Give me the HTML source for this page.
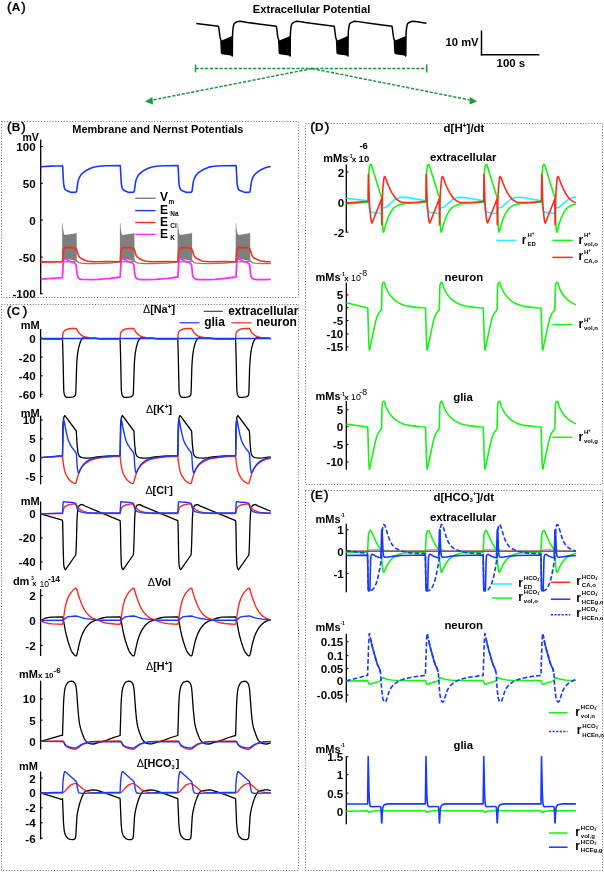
<!DOCTYPE html>
<html><head><meta charset="utf-8"><style>
html,body{margin:0;padding:0;background:#fff;}
svg{display:block;font-family:"Liberation Sans",sans-serif;will-change:transform;}
</style></head><body>
<svg width="604" height="874" viewBox="0 0 604 874">
<rect width="604" height="874" fill="#fff"/>
<text x="7" y="11" font-size="13.6" font-weight="normal" stroke="#000" stroke-width="0.45">(<tspan font-size="11.8" font-weight="bold" stroke-width="0.1" dx="0.1">A</tspan><tspan dx="1.1" stroke-width="0.45">)</tspan></text>
<text x="252.8" y="13.1" font-size="11.2" font-weight="bold" text-anchor="start">Extracellular Potential</text>
<polygon points="221,40.7 232.3,35.9 232.45,56.2 231.5,55 222.5,53.6 221.5,52.7" fill="#000"/>
<polygon points="278.83,40.7 290.13,35.9 290.28,56.2 289.33,55 280.33,53.6 279.33,52.7" fill="#000"/>
<polygon points="336.66,40.7 347.96,35.9 348.11,56.2 347.16,55 338.16,53.6 337.16,52.7" fill="#000"/>
<polygon points="394.49,40.7 405.79,35.9 405.94,56.2 404.99,55 395.99,53.6 394.99,52.7" fill="#000"/>
<path d="M196.3 23.6 L218.5 26.3 L218.9 28.5 L219.9 36.4 L220.1 37.5 L220.9 40.05 L221.5 52.7 L221.7 53.13 L222.1 53.44 L223.5 53.82 L230.9 54.82 L231.5 55 L232.3 56 L232.5 35.9 L232.7 31.53 L233.3 26.61 L233.9 24.19 L234.5 23.34 L235.7 22.45 L237.3 21.69 L238.3 21.38 L239.7 21.31 L241.9 21.51 L247.5 22.43 L256.7 23.72 L276.33 26.3 L276.73 28.5 L277.73 36.4 L277.93 37.5 L278.73 40.05 L279.33 52.7 L279.53 53.13 L279.93 53.44 L281.33 53.82 L288.73 54.82 L289.33 55 L290.13 56 L290.33 35.9 L290.53 31.53 L291.13 26.61 L291.73 24.19 L292.33 23.34 L293.33 22.56 L295.73 21.48 L296.93 21.3 L299.53 21.48 L305.33 22.43 L314.53 23.72 L334.16 26.3 L334.56 28.5 L335.56 36.4 L335.76 37.5 L336.56 40.05 L337.16 52.7 L337.36 53.13 L337.76 53.44 L339.16 53.82 L346.56 54.82 L347.16 55 L347.96 56 L348.16 35.9 L348.36 31.53 L348.76 27.88 L349.36 24.75 L349.76 23.85 L350.76 22.81 L352.56 21.87 L353.76 21.42 L354.56 21.3 L356.36 21.38 L372.96 23.8 L391.99 26.3 L392.39 28.5 L393.39 36.4 L393.59 37.5 L394.39 40.05 L394.99 52.7 L395.19 53.13 L395.59 53.44 L396.99 53.82 L404.39 54.82 L404.99 55 L405.79 56 L405.99 35.9 L406.19 31.53 L406.79 26.61 L407.19 24.75 L407.59 23.85 L408.39 22.96 L409.19 22.45 L411.19 21.54 L412.39 21.3 L415.59 21.53 L426.4 23.18" fill="none" stroke="#000" stroke-width="1.5" stroke-linejoin="round"/>
<line x1="481.5" y1="30.4" x2="481.5" y2="55.5" stroke="#000" stroke-width="1.5"/>
<line x1="480.8" y1="54.8" x2="539.4" y2="54.8" stroke="#000" stroke-width="1.5"/>
<text x="445.6" y="46.2" font-size="11.2" font-weight="bold" text-anchor="start">10 mV</text>
<text x="496.6" y="66.6" font-size="11.4" font-weight="bold" text-anchor="start">100 s</text>
<line x1="195.5" y1="68.4" x2="426.8" y2="68.4" stroke="#1a9a3a" stroke-width="1.5" stroke-dasharray="3.2 1.6"/>
<line x1="195.5" y1="64.6" x2="195.5" y2="72.4" stroke="#1a9a3a" stroke-width="1.5"/>
<line x1="426.8" y1="64.6" x2="426.8" y2="72.4" stroke="#1a9a3a" stroke-width="1.5"/>
<line x1="312" y1="68.6" x2="153" y2="99.9" stroke="#1a9a3a" stroke-width="1.5" stroke-dasharray="3.2 1.6"/>
<line x1="312" y1="68.6" x2="469.5" y2="99.9" stroke="#1a9a3a" stroke-width="1.5" stroke-dasharray="3.2 1.6"/>
<polygon points="145.0,101.5 152.4,97.1 152.9,104.5" fill="#1a9a3a"/>
<polygon points="477.3,101.5 469.9,97.1 469.4,104.5" fill="#1a9a3a"/>
<rect x="1.5" y="121.5" width="297" height="176" fill="none" stroke="#6a6a6a" stroke-width="1" stroke-dasharray="1 1.83"/>
<rect x="1.5" y="304.5" width="297" height="566" fill="none" stroke="#6a6a6a" stroke-width="1" stroke-dasharray="1 1.83"/>
<rect x="305.5" y="123.5" width="297" height="361" fill="none" stroke="#6a6a6a" stroke-width="1" stroke-dasharray="1 1.83"/>
<rect x="305.5" y="490.5" width="297" height="380" fill="none" stroke="#6a6a6a" stroke-width="1" stroke-dasharray="1 1.83"/>
<text x="7" y="131" font-size="13.6" font-weight="normal" stroke="#000" stroke-width="0.45">(<tspan font-size="11.8" font-weight="bold" stroke-width="0.1" dx="0.1">B</tspan><tspan dx="1.2" stroke-width="0.45">)</tspan></text>
<text x="72.3" y="133.4" font-size="11" font-weight="bold" text-anchor="start">Membrane and Nernst Potentials</text>
<text x="22.4" y="140.6" font-size="10.5" font-weight="bold" text-anchor="start">mV</text>
<line x1="40.7" y1="139.5" x2="40.7" y2="294.2" stroke="#000" stroke-width="1.3"/>
<line x1="40.7" y1="146.5" x2="42.9" y2="146.5" stroke="#000" stroke-width="1.0"/>
<text x="35.6" y="150.9" font-size="11.6" font-weight="bold" text-anchor="end">100</text>
<line x1="40.7" y1="183.3" x2="42.9" y2="183.3" stroke="#000" stroke-width="1.0"/>
<text x="35.6" y="187.7" font-size="11.6" font-weight="bold" text-anchor="end">50</text>
<line x1="40.7" y1="220.1" x2="42.9" y2="220.1" stroke="#000" stroke-width="1.0"/>
<text x="35.6" y="224.5" font-size="11.6" font-weight="bold" text-anchor="end">0</text>
<line x1="40.7" y1="257.1" x2="42.9" y2="257.1" stroke="#000" stroke-width="1.0"/>
<text x="35.6" y="261.5" font-size="11.6" font-weight="bold" text-anchor="end">-50</text>
<line x1="40.7" y1="293.8" x2="42.9" y2="293.8" stroke="#000" stroke-width="1.0"/>
<text x="35.6" y="298.2" font-size="11.6" font-weight="bold" text-anchor="end">-100</text>
<polygon points="62.1,262 62.2,223 62.6,222.9 63.1,229 63.9,233.5 64.8,234.9 76.3,233.2 76.5,232.4 76.7,232.6 76.8,260.8 70.5,259.8 64.5,258.2 63.8,258.6 63.1,262" fill="#7f7f7f"/>
<polygon points="119.8,262 119.9,223 120.3,222.9 120.8,229 121.6,233.5 122.5,234.9 134,233.2 134.2,232.4 134.4,232.6 134.5,260.8 128.2,259.8 122.2,258.2 121.5,258.6 120.8,262" fill="#7f7f7f"/>
<polygon points="177.5,262 177.6,223 178,222.9 178.5,229 179.3,233.5 180.2,234.9 191.7,233.2 191.9,232.4 192.1,232.6 192.2,260.8 185.9,259.8 179.9,258.2 179.2,258.6 178.5,262" fill="#7f7f7f"/>
<polygon points="235.6,262 235.7,223 236.1,222.9 236.6,229 237.4,233.5 238.3,234.9 249.8,233.2 250,232.4 250.2,232.6 250.3,260.8 244,259.8 238,258.2 237.3,258.6 236.6,262" fill="#7f7f7f"/>
<path d="M40.7 261.5 L62.5 261.9 L66.3 261.86 L73.3 261.44 L76.5 261 L76.9 260.72 L78.3 262.4 L80.9 263.14 L86.7 263.5 L94.3 263.59 L101.9 263.42 L109.9 263.06 L114.5 262.63 L120.2 261.9 L125.8 261.81 L130.2 261.52 L134.2 261 L134.6 260.72 L136 262.4 L138.6 263.14 L144 263.49 L151.2 263.6 L158.8 263.45 L167.4 263.07 L172 262.65 L177.9 261.9 L183.5 261.81 L187.9 261.52 L191.9 261 L192.3 260.72 L193.7 262.4 L196.1 263.11 L201.1 263.47 L208.7 263.6 L216.3 263.45 L225.1 263.07 L229.7 262.65 L235.5 261.91 L241.4 261.82 L245.8 261.54 L250 261 L250.4 260.72 L251.8 262.4 L253.2 262.88 L254.8 263.2 L262.2 263.56 L270.8 263.55" fill="none" stroke="#7f7f7f" stroke-width="1.3" stroke-linejoin="round"/>
<path d="M40.7 279.1 L62.45 277.6 L63.3 262 L63.7 259.3 L63.9 258.8 L64.5 258.7 L65.3 258.82 L66.1 259.14 L69.7 261.29 L73.9 262.73 L74.9 263.33 L75.7 264 L76.1 264.91 L76.3 265.97 L77.1 274.5 L77.7 276.8 L78.1 277.67 L78.9 278.35 L80.3 279.09 L81.7 279.46 L92.7 279.6 L97.9 279.41 L110.3 278.33 L120.2 277 L121 262 L121.4 259.3 L121.6 258.8 L122.2 258.7 L123 258.82 L123.8 259.14 L127.4 261.29 L131.6 262.73 L132.6 263.33 L133.4 264 L133.8 264.91 L134 265.97 L134.8 274.5 L135.4 276.8 L135.8 277.67 L136.4 278.21 L137.6 278.92 L139 279.39 L140.4 279.51 L148.8 279.6 L155.4 279.43 L168 278.33 L177.9 277 L178.7 262 L179.1 259.3 L179.3 258.8 L179.9 258.7 L180.7 258.82 L181.5 259.14 L185.1 261.29 L189.3 262.73 L190.3 263.33 L191.1 264 L191.5 264.91 L191.7 265.97 L192.3 272.82 L192.5 274.5 L192.9 276.16 L193.3 277.3 L193.7 277.9 L195.5 279.01 L196.5 279.35 L197.5 279.49 L209.5 279.58 L215.1 279.29 L225.1 278.39 L236 277 L236.8 262 L237.2 259.3 L237.4 258.8 L238 258.7 L238.8 258.82 L239.6 259.14 L243.2 261.29 L247.4 262.73 L248.4 263.33 L249.2 264 L249.6 264.91 L249.8 265.97 L250.4 272.82 L250.8 275.4 L251.2 276.8 L251.6 277.67 L252.6 278.48 L254 279.17 L255.6 279.49 L266.2 279.6 L270.8 279.45" fill="none" stroke="#ff2cff" stroke-width="1.8" stroke-linejoin="round"/>
<path d="M40.7 262.2 L53.45 261.97 L62.45 261.5 L62.5 261.8 L63.1 253 L63.5 250.26 L63.7 249.45 L64.3 248.35 L64.9 247.73 L65.3 247.6 L71.9 247.65 L74.1 247.95 L75.7 248.4 L76.3 249.11 L76.9 250.23 L78.1 254.34 L78.7 255.87 L79.3 256.9 L80.1 257.64 L80.9 258.18 L84.9 260.17 L86.7 260.85 L88.3 261.2 L93.1 261.65 L97.5 261.8 L107.5 261.6 L120.2 261.8 L120.8 253 L121.2 250.26 L121.4 249.45 L122 248.35 L122.6 247.73 L123 247.6 L129.6 247.65 L131.8 247.95 L133.4 248.4 L134 249.11 L134.6 250.23 L135.4 253.19 L136 254.88 L136.6 256.29 L137.2 257.11 L138.6 258.18 L142.2 259.98 L144.2 260.79 L146 261.2 L150.2 261.61 L154 261.79 L165.4 261.6 L177.9 261.8 L178.5 253 L178.9 250.26 L179.1 249.45 L179.5 248.66 L180.1 247.88 L180.7 247.6 L186.1 247.6 L188.9 247.84 L191.1 248.4 L191.7 249.11 L192.3 250.23 L193.5 254.34 L194.1 255.87 L194.7 256.9 L195.7 257.79 L196.7 258.4 L200.3 260.17 L202.3 260.91 L203.5 261.17 L205.9 261.44 L211.3 261.78 L223.3 261.6 L236 261.8 L236.6 253 L236.8 251.46 L237.2 249.45 L237.8 248.35 L238.4 247.73 L238.8 247.6 L245.4 247.65 L248 248.03 L249 248.3 L249.4 248.58 L250.4 250.23 L251.2 253.19 L252.4 256.29 L253.2 257.3 L254.6 258.3 L258.6 260.25 L261 261.06 L265.8 261.59 L270.8 261.8" fill="none" stroke="#ff2a1a" stroke-width="1.6" stroke-linejoin="round"/>
<path d="M40.7 166.8 L50.7 166.08 L62.45 165.7 L62.5 165.5 L62.7 167.2 L63.5 182.04 L63.9 185.51 L64.5 188.25 L65.3 189.58 L65.9 190.13 L66.7 190.61 L70.7 192.22 L71.7 192.39 L72.9 192.39 L75.9 192.2 L76.3 191.77 L76.7 190.62 L77.9 181.9 L78.5 179.7 L79.3 177.68 L80.5 175.54 L82.1 173.61 L84.1 171.9 L86.7 170.18 L90.1 168.5 L92.7 167.46 L94.5 166.98 L98.5 166.28 L101.5 165.96 L105.7 165.77 L120.2 165.5 L120.4 167.2 L121.2 182.04 L121.6 185.51 L122.2 188.25 L123 189.58 L124.2 190.51 L128.2 192.16 L129.2 192.38 L130.2 192.4 L133.6 192.2 L134 191.77 L134.4 190.62 L135.6 181.9 L136.2 179.7 L137 177.68 L138.2 175.54 L139.8 173.61 L141.8 171.9 L144.4 170.18 L147.8 168.5 L150.4 167.46 L152.2 166.98 L156.2 166.28 L159.2 165.96 L163.4 165.77 L177.9 165.5 L178.1 167.2 L178.9 182.04 L179.3 185.51 L179.9 188.25 L180.7 189.58 L181.9 190.51 L185.9 192.16 L186.7 192.35 L187.7 192.4 L191.3 192.2 L191.7 191.77 L192.1 190.62 L193.3 181.9 L194.1 179.12 L194.9 177.27 L196.1 175.25 L197.7 173.41 L199.9 171.6 L202.3 170.07 L205.7 168.41 L208.3 167.4 L210.5 166.86 L214.1 166.25 L217.1 165.94 L221.9 165.75 L236 165.5 L236.2 167.2 L237 182.04 L237.4 185.51 L238 188.25 L238.8 189.58 L240 190.51 L243.8 192.09 L244.8 192.35 L245.6 192.4 L249.4 192.2 L250 191.39 L250.2 190.62 L251.2 182.97 L251.8 180.35 L252.4 178.6 L253.4 176.51 L254.4 174.98 L255.4 173.82 L256.8 172.52 L258.8 171.04 L260.4 170.07 L262.6 168.97 L264.8 167.98 L266.6 167.33 L270.8 166.46" fill="none" stroke="#1638ff" stroke-width="1.6" stroke-linejoin="round"/>
<line x1="135.2" y1="198.3" x2="155.6" y2="198.3" stroke="#7f7f7f" stroke-width="1.4"/>
<line x1="135.2" y1="210.6" x2="155.6" y2="210.6" stroke="#1638ff" stroke-width="1.4"/>
<line x1="135.2" y1="222.5" x2="155.6" y2="222.5" stroke="#ff2a1a" stroke-width="1.4"/>
<line x1="135.2" y1="234.4" x2="155.6" y2="234.4" stroke="#ff2cff" stroke-width="1.4"/>
<text x="159.9" y="201.4" font-size="12" font-weight="bold" text-anchor="start">V</text>
<text x="168.5" y="203.8" font-size="6.4" font-weight="bold" text-anchor="start">m</text>
<text x="160" y="213.5" font-size="12" font-weight="bold" text-anchor="start">E</text>
<text x="170.3" y="215.9" font-size="6.4" font-weight="bold" text-anchor="start">Na</text>
<text x="160" y="225.9" font-size="12" font-weight="bold" text-anchor="start">E</text>
<text x="170.3" y="228.1" font-size="6.4" font-weight="bold" text-anchor="start">Cl</text>
<text x="160" y="237.9" font-size="12" font-weight="bold" text-anchor="start">E</text>
<text x="170.3" y="240.1" font-size="6.4" font-weight="bold" text-anchor="start">K</text>
<text x="6.8" y="315.2" font-size="13.6" font-weight="normal" stroke="#000" stroke-width="0.45">(<tspan font-size="11.8" font-weight="bold" stroke-width="0.1" dx="0.1">C</tspan><tspan dx="2.9" stroke-width="0.45">)</tspan></text>
<line x1="203.7" y1="311.3" x2="222.9" y2="311.3" stroke="#333" stroke-width="1.1"/>
<text x="228.2" y="315.4" font-size="11.9" font-weight="bold" text-anchor="start">extracellular</text>
<line x1="179.5" y1="322.8" x2="199.4" y2="322.8" stroke="#1638ff" stroke-width="1.2"/>
<text x="204.2" y="326" font-size="12" font-weight="bold" text-anchor="start">glia</text>
<line x1="231.3" y1="322.8" x2="251.6" y2="322.8" stroke="#ff2a1a" stroke-width="1.2"/>
<text x="256.2" y="326" font-size="12" font-weight="bold" text-anchor="start">neuron</text>
<text x="143" y="313.4" font-size="10.8" font-weight="bold"><tspan font-weight="normal">&#916;</tspan>[Na<tspan font-size="6.5" dy="-4.2">+</tspan><tspan dy="4.2">]</tspan></text>
<text x="20.7" y="329.2" font-size="11" font-weight="bold" text-anchor="start">mM</text>
<line x1="40.6" y1="329" x2="40.6" y2="397.6" stroke="#000" stroke-width="1.3"/>
<line x1="40.6" y1="338.5" x2="42.8" y2="338.5" stroke="#000" stroke-width="1.0"/>
<text x="35.6" y="342.9" font-size="11.6" font-weight="bold" text-anchor="end">0</text>
<line x1="40.6" y1="357.1" x2="42.8" y2="357.1" stroke="#000" stroke-width="1.0"/>
<text x="35.6" y="361.5" font-size="11.6" font-weight="bold" text-anchor="end">-20</text>
<line x1="40.6" y1="375.8" x2="42.8" y2="375.8" stroke="#000" stroke-width="1.0"/>
<text x="35.6" y="380.2" font-size="11.6" font-weight="bold" text-anchor="end">-40</text>
<line x1="40.6" y1="394.3" x2="42.8" y2="394.3" stroke="#000" stroke-width="1.0"/>
<text x="35.6" y="398.7" font-size="11.6" font-weight="bold" text-anchor="end">-60</text>
<path d="M40.6 338.49 L49.35 339.16 L62.5 339.4 L62.9 352.07 L63.7 389.11 L63.9 391.88 L64.3 394.39 L64.7 395.64 L65.9 396.98 L66.5 397.31 L67.1 397.4 L70.7 397.23 L73.1 396.87 L74.1 396.41 L74.9 395.8 L75.3 395.26 L75.5 394.58 L75.7 393.5 L75.9 389.67 L76.7 364.38 L77.1 358.4 L77.7 352.89 L78.7 347.49 L80.3 342 L80.9 340.67 L81.9 339.11 L82.7 338.17 L83.3 337.83 L93.3 338.04 L102.5 339 L111.9 339.3 L120.1 339.4 L120.5 352.07 L121.3 389.11 L121.5 391.88 L121.9 394.39 L122.3 395.64 L123.5 396.98 L124.1 397.31 L124.7 397.4 L128.3 397.23 L130.7 396.87 L131.7 396.41 L132.5 395.8 L132.9 395.26 L133.1 394.58 L133.3 393.5 L133.5 389.67 L134.3 364.38 L134.7 358.4 L135.3 352.89 L136.3 347.49 L137.7 342.55 L138.3 341.05 L139.1 339.71 L139.9 338.59 L140.7 337.9 L141.1 337.8 L143.1 337.81 L150.7 338.03 L160.1 339 L169.7 339.3 L177.8 339.4 L178.2 352.07 L179 389.11 L179.2 391.88 L179.6 394.39 L180 395.64 L181.2 396.98 L181.8 397.31 L182.4 397.4 L186 397.23 L188.4 396.87 L189.4 396.41 L190.2 395.8 L190.6 395.26 L190.8 394.58 L191 393.5 L191.2 389.67 L191.8 368.3 L192.2 361.11 L192.8 354.4 L193.8 348.36 L195.2 343.15 L196.2 340.67 L197.4 338.84 L198.2 338.02 L198.8 337.8 L207.8 338 L217.4 338.98 L227.2 339.3 L235.6 339.4 L236 352.07 L236.8 389.11 L237 391.88 L237.4 394.39 L237.8 395.64 L239 396.98 L239.6 397.31 L240.2 397.4 L243.8 397.23 L246.2 396.87 L247.2 396.41 L248 395.8 L248.4 395.26 L248.6 394.58 L248.8 393.5 L249 389.67 L249.6 368.3 L250.4 356.19 L251 351.55 L251.6 348.36 L252.8 343.79 L253.8 341.05 L255.4 338.59 L256 338.02 L256.4 337.83 L266 338.02 L270.7 338.51" fill="none" stroke="#000" stroke-width="1.3" stroke-linejoin="round"/>
<path d="M40.6 338.49 L49.35 339.16 L62.5 339.4 L62.9 333.6 L63.1 332.83 L63.7 331.63 L64.9 330.42 L66.3 329.58 L69.1 328.78 L71.5 328.54 L75.7 328.4 L76.1 328.5 L76.5 328.92 L78.3 332.15 L80.7 334.67 L82.3 335.81 L85.3 336.83 L88.5 337.48 L92.5 338.07 L103.1 339.09 L107.3 339.3 L120.1 339.4 L120.5 333.6 L120.7 332.83 L121.3 331.63 L122.5 330.42 L123.9 329.58 L126.7 328.78 L129.1 328.54 L133.3 328.4 L133.7 328.5 L134.1 328.92 L135.9 332.15 L138.3 334.67 L139.9 335.81 L142.9 336.83 L146.1 337.48 L150.1 338.07 L160.7 339.09 L164.9 339.3 L177.8 339.4 L178.2 333.6 L178.4 332.83 L179 331.63 L180.2 330.42 L181.6 329.58 L184.4 328.78 L186.8 328.54 L191 328.4 L191.4 328.5 L191.8 328.92 L193.8 332.4 L196.2 334.85 L197.8 335.9 L200.8 336.88 L204 337.51 L208 338.09 L218.6 339.11 L222.6 339.3 L235.6 339.4 L236 333.6 L236.2 332.83 L236.8 331.63 L238 330.42 L239.4 329.58 L242.2 328.78 L244.6 328.54 L248.8 328.4 L249.2 328.5 L249.6 328.92 L251.6 332.4 L253.8 334.67 L255.4 335.81 L257.8 336.67 L260.8 337.34 L265.4 338.04 L270.7 338.61" fill="none" stroke="#ff2a1a" stroke-width="1.4" stroke-linejoin="round"/>
<path d="M40.6 338.5 L270.7 338.5" fill="none" stroke="#1638ff" stroke-width="1.4" stroke-linejoin="round"/>
<text x="146" y="413" font-size="10.8" font-weight="bold"><tspan font-weight="normal">&#916;</tspan>[K<tspan font-size="6.5" dy="-4.2">+</tspan><tspan dy="4.2">]</tspan></text>
<text x="20.7" y="416.7" font-size="11" font-weight="bold" text-anchor="start">mM</text>
<line x1="40.6" y1="415.7" x2="40.6" y2="484.4" stroke="#000" stroke-width="1.3"/>
<line x1="40.6" y1="419.9" x2="42.8" y2="419.9" stroke="#000" stroke-width="1.0"/>
<text x="35.6" y="424.3" font-size="11.6" font-weight="bold" text-anchor="end">10</text>
<line x1="40.6" y1="438.9" x2="42.8" y2="438.9" stroke="#000" stroke-width="1.0"/>
<text x="35.6" y="443.3" font-size="11.6" font-weight="bold" text-anchor="end">5</text>
<line x1="40.6" y1="457.6" x2="42.8" y2="457.6" stroke="#000" stroke-width="1.0"/>
<text x="35.6" y="462" font-size="11.6" font-weight="bold" text-anchor="end">0</text>
<line x1="40.6" y1="476.5" x2="42.8" y2="476.5" stroke="#000" stroke-width="1.0"/>
<text x="35.6" y="480.9" font-size="11.6" font-weight="bold" text-anchor="end">-5</text>
<path d="M40.6 457.61 L62.5 455.8 L62.9 426.77 L63.1 422.62 L63.7 418.03 L64.3 416.24 L64.7 415.63 L64.9 415.63 L65.1 415.86 L76.3 431 L77.1 444.73 L77.9 452.43 L78.5 454.54 L79.3 456.1 L80.7 457.11 L82.3 457.67 L85.5 458.03 L88.3 458.08 L92.9 457.55 L97.1 456.84 L102.9 456.35 L110.5 455.95 L120.1 455.8 L120.5 426.77 L120.7 422.62 L121.3 418.03 L121.9 416.24 L122.3 415.63 L122.5 415.63 L122.7 415.86 L133.9 431 L134.7 444.73 L135.5 452.43 L136.1 454.54 L136.9 456.1 L138.1 457 L139.5 457.58 L142.7 458 L145.9 458.08 L150.5 457.55 L154.7 456.84 L160.5 456.35 L168.1 455.95 L177.8 455.8 L178.2 426.77 L178.4 422.62 L179 418.03 L179.6 416.24 L180 415.63 L180.2 415.63 L180.4 415.86 L191.6 431 L192.4 444.73 L193.2 452.43 L193.8 454.54 L194.4 455.82 L195.2 456.61 L196.4 457.3 L197.4 457.63 L199.2 457.88 L203.4 458.09 L208 457.57 L212.4 456.84 L218.2 456.35 L225.8 455.95 L235.6 455.8 L236 426.77 L236.2 422.62 L236.8 418.03 L237.4 416.24 L237.8 415.63 L238 415.63 L238.2 415.86 L249.4 431 L250.2 444.73 L250.8 451.06 L251 452.43 L251.4 453.95 L251.8 455.04 L252.4 456.1 L253.6 457 L255 457.58 L257.2 457.9 L259.6 458.08 L263 457.94 L270.7 456.79" fill="none" stroke="#000" stroke-width="1.3" stroke-linejoin="round"/>
<path d="M40.6 457.61 L62.5 456.4 L63.1 461.76 L64.1 468.51 L64.9 471.63 L66.1 474.71 L66.9 476.22 L68.1 478.1 L69.3 479.71 L70.3 480.81 L71.3 481.66 L73.3 482.96 L74.3 483.42 L75.3 483.6 L75.7 483.28 L76.1 482.6 L77.5 477.2 L78.7 473.46 L79.5 471.4 L81.5 467.57 L82.3 466.44 L83.5 465.14 L84.9 463.91 L86.7 462.62 L89.5 460.87 L91.5 459.86 L93.3 459.27 L96.1 458.56 L101.9 457.58 L110.5 456.7 L120.1 456.4 L120.7 461.76 L121.7 468.51 L122.5 471.63 L123.7 474.71 L124.5 476.22 L125.7 478.1 L126.9 479.71 L127.9 480.81 L128.9 481.66 L130.9 482.96 L131.9 483.42 L132.9 483.6 L133.3 483.28 L133.7 482.6 L135.1 477.2 L136.9 471.86 L138.7 468.23 L140.3 465.97 L141.7 464.58 L143.3 463.3 L146.1 461.47 L148.1 460.33 L149.5 459.7 L150.9 459.27 L155.7 458.16 L160.3 457.48 L166.7 456.8 L172.1 456.52 L177.8 456.4 L178.4 461.76 L179.4 468.51 L180.2 471.63 L181.4 474.71 L182.2 476.22 L183.4 478.1 L184.6 479.71 L185.6 480.81 L186.6 481.66 L188.6 482.96 L189.6 483.42 L190.6 483.6 L191.2 483 L191.6 482.01 L192.8 477.2 L194.4 472.36 L195.8 469.33 L197.2 466.97 L199 464.95 L201.2 463.16 L205 460.76 L207.6 459.56 L210.2 458.84 L213.2 458.2 L220.2 457.21 L226.8 456.65 L235.6 456.4 L236.2 461.76 L237.2 468.51 L238 471.63 L239.2 474.71 L240 476.22 L241.2 478.1 L242.4 479.71 L243.4 480.81 L244.4 481.66 L246.4 482.96 L247.4 483.42 L248.4 483.6 L248.8 483.28 L249.2 482.6 L250.6 477.2 L252.4 471.86 L254 468.58 L255.6 466.2 L257 464.76 L258.6 463.45 L261.2 461.72 L263.4 460.43 L265.8 459.44 L270.7 458.26" fill="none" stroke="#ff2a1a" stroke-width="1.4" stroke-linejoin="round"/>
<path d="M40.6 457.61 L62.5 455.8 L63.1 432 L63.5 421.77 L63.7 419.8 L64.3 421.68 L65.5 428.5 L66.9 434.95 L67.7 438.17 L68.5 440.7 L69.5 443.05 L70.7 445.31 L72.7 448.5 L75.3 451.63 L75.9 452.77 L76.3 453.95 L76.5 455 L77.1 465 L77.5 469.16 L77.9 471.46 L78.3 472.73 L78.5 472.78 L79.1 472.17 L80.3 469.5 L81.3 467.69 L82.7 465.51 L83.9 464.06 L85.5 462.49 L86.9 461.39 L88.9 460.19 L90.9 459.24 L92.9 458.6 L96.3 457.88 L106.3 456.53 L111.9 456.03 L120.1 455.8 L120.7 432 L121.1 421.77 L121.3 419.8 L121.9 421.68 L123.1 428.5 L124.5 434.95 L125.3 438.17 L126.1 440.7 L127.1 443.05 L128.3 445.31 L130.3 448.5 L132.9 451.63 L133.5 452.77 L133.9 453.95 L134.1 455 L134.7 465 L135.1 469.16 L135.7 472.25 L135.9 472.73 L136.1 472.78 L136.9 471.84 L138.1 469.1 L139.3 467.02 L140.5 465.24 L141.5 464.06 L143.1 462.49 L144.5 461.39 L146.5 460.19 L148.5 459.24 L150.5 458.6 L153.9 457.88 L163.9 456.53 L169.5 456.03 L177.8 455.8 L178.4 432 L178.8 421.77 L179 419.8 L179.6 421.68 L180.8 428.5 L182.2 434.95 L183 438.17 L183.8 440.7 L184.8 443.05 L186 445.31 L188 448.5 L190.6 451.63 L191.2 452.77 L191.6 453.95 L191.8 455 L192.4 465 L192.8 469.16 L193.4 472.25 L193.6 472.73 L193.8 472.78 L194.6 471.84 L195.8 469.1 L197 467.02 L198.2 465.24 L199.2 464.06 L200.8 462.49 L202.2 461.39 L204.2 460.19 L206.2 459.24 L208.2 458.6 L211.6 457.88 L221.6 456.53 L227.2 456.03 L235.6 455.8 L236.2 432 L236.6 421.77 L236.8 419.8 L237.4 421.68 L238.6 428.5 L240 434.95 L240.8 438.17 L241.6 440.7 L242.6 443.05 L243.8 445.31 L245.8 448.5 L248.4 451.63 L249 452.77 L249.4 453.95 L249.6 455 L250.2 465 L250.6 469.16 L251 471.46 L251.4 472.73 L251.6 472.78 L252.2 472.17 L253.6 469.1 L255.8 465.51 L257.4 463.64 L259.4 461.83 L261.8 460.3 L264.4 459.08 L267 458.36 L270.7 457.66" fill="none" stroke="#1638ff" stroke-width="1.4" stroke-linejoin="round"/>
<text x="145.4" y="493.5" font-size="10.8" font-weight="bold"><tspan font-weight="normal">&#916;</tspan>[Cl<tspan font-size="6.5" dy="-4.2">-</tspan><tspan dy="4.2">]</tspan></text>
<text x="20.7" y="504.9" font-size="11" font-weight="bold" text-anchor="start">mM</text>
<line x1="40.6" y1="501.5" x2="40.6" y2="570.2" stroke="#000" stroke-width="1.3"/>
<line x1="40.6" y1="513.9" x2="42.8" y2="513.9" stroke="#000" stroke-width="1.0"/>
<text x="35.6" y="518.3" font-size="11.6" font-weight="bold" text-anchor="end">0</text>
<line x1="40.6" y1="538" x2="42.8" y2="538" stroke="#000" stroke-width="1.0"/>
<text x="35.6" y="542.4" font-size="11.6" font-weight="bold" text-anchor="end">-20</text>
<line x1="40.6" y1="562" x2="42.8" y2="562" stroke="#000" stroke-width="1.0"/>
<text x="35.6" y="566.4" font-size="11.6" font-weight="bold" text-anchor="end">-40</text>
<path d="M40.6 513.87 L62.35 520.16 L62.5 520.7 L62.7 523.5 L63.3 552.25 L63.7 564.5 L64.3 567.83 L64.7 568.8 L65.3 569.58 L65.5 569.56 L65.7 569.3 L75.7 555 L75.9 553.31 L76.3 545.34 L76.9 523.6 L77.3 514.78 L77.9 508.95 L78.5 506.9 L78.9 506.01 L79.3 505.46 L80.9 504.68 L81.9 504.51 L82.5 504.57 L84.9 505.98 L120.1 520.7 L120.3 523.5 L120.5 530.13 L120.9 552.25 L121.3 564.5 L121.9 567.83 L122.5 569.14 L122.9 569.58 L123.1 569.56 L133.3 555 L133.5 553.31 L133.9 545.34 L134.7 518.08 L135.3 510.33 L135.7 508.14 L136.1 506.9 L136.7 505.69 L137.1 505.3 L138.3 504.75 L139.3 504.52 L140.1 504.57 L142.7 506.07 L177.8 520.7 L178 523.5 L178.2 530.13 L178.6 552.25 L179 564.5 L179.6 567.83 L180 568.8 L180.6 569.58 L180.8 569.56 L181 569.3 L191 555 L191.2 553.31 L191.6 545.34 L192.4 518.08 L193 510.33 L193.4 508.14 L193.8 506.9 L194.4 505.69 L194.8 505.3 L196 504.75 L197 504.52 L197.8 504.57 L200.4 506.07 L235.6 520.7 L235.8 523.5 L236 530.13 L236.4 552.25 L236.8 564.5 L237.4 567.83 L237.8 568.8 L238.4 569.58 L238.6 569.56 L238.8 569.3 L248.8 555 L249 553.31 L249.4 545.34 L250 523.6 L250.4 514.78 L251 508.95 L251.4 507.48 L252 506.01 L252.6 505.3 L253.6 504.82 L254.8 504.52 L255.6 504.57 L257.8 505.89 L270.7 511.27" fill="none" stroke="#000" stroke-width="1.3" stroke-linejoin="round"/>
<path d="M40.6 513.9 L62.5 513.5 L63.1 510.85 L64.1 507.87 L64.5 507.2 L65.7 506.1 L67.3 505.27 L69.7 504.59 L72.7 504.17 L75.5 504 L76.1 504.41 L77.3 506.33 L79.1 508.52 L80.7 509.85 L82.3 510.81 L84.7 511.72 L87.1 512.33 L92.1 513.11 L95.9 513.46 L120.1 513.5 L120.7 510.85 L121.7 507.87 L122.1 507.2 L123.3 506.1 L124.9 505.27 L127.3 504.59 L130.3 504.17 L133.1 504 L133.7 504.41 L134.9 506.33 L136.3 508.08 L138.1 509.71 L139.3 510.5 L140.5 511.07 L142.5 511.78 L144.3 512.25 L149.7 513.11 L153.9 513.48 L177.8 513.5 L178.4 510.85 L179.4 507.87 L179.8 507.2 L181 506.1 L182.6 505.27 L185 504.59 L188 504.17 L190.8 504 L191.4 504.41 L192.6 506.33 L194 508.08 L195.8 509.71 L197 510.5 L198.2 511.07 L200.2 511.78 L202 512.25 L207.4 513.11 L211.6 513.48 L235.6 513.5 L236.2 510.85 L237.2 507.87 L237.6 507.2 L238.8 506.1 L240.4 505.27 L242.8 504.59 L245.8 504.17 L248.6 504 L249.2 504.41 L250.6 506.6 L252.4 508.72 L254 509.99 L255.6 510.9 L258.2 511.84 L260.6 512.4 L266.4 513.25 L270.7 513.5" fill="none" stroke="#ff2a1a" stroke-width="1.4" stroke-linejoin="round"/>
<path d="M40.6 513.9 L62.5 513 L63.1 503.1 L63.3 502.04 L63.5 501.6 L66.1 502 L72.3 502.44 L75.5 503.1 L75.9 504.1 L76.5 506.6 L77.3 508.8 L77.9 509.98 L78.5 510.61 L79.5 511.36 L80.7 511.86 L83.7 512.61 L86.5 512.97 L120.1 513 L120.7 503.1 L120.9 502.04 L121.1 501.6 L123.7 502 L129.9 502.44 L133.1 503.1 L133.5 504.1 L134.1 506.6 L134.9 508.8 L135.5 509.98 L136.5 510.95 L137.5 511.57 L141.1 512.57 L143.1 512.89 L144.9 513 L177.8 513 L178.4 503.1 L178.6 502.04 L178.8 501.6 L181.4 502 L187.6 502.44 L190.8 503.1 L191.2 504.1 L191.8 506.6 L192.6 508.8 L193.2 509.98 L194.2 510.95 L195.2 511.57 L198.8 512.57 L200.8 512.89 L202.6 513 L235.6 513 L236.2 503.1 L236.4 502.04 L236.6 501.6 L239.2 502 L245.4 502.44 L248.6 503.1 L249 504.1 L249.6 506.6 L250.8 509.66 L251.2 510.21 L252 510.95 L253.4 511.73 L256.6 512.57 L259.4 512.96 L270.7 513" fill="none" stroke="#1638ff" stroke-width="1.4" stroke-linejoin="round"/>
<text x="147.8" y="585.6" font-size="10.8" font-weight="bold"><tspan font-weight="normal">&#916;</tspan>Vol</text>
<text x="12.9" y="584.9" font-size="11" font-weight="bold">dm</text>
<text x="31.2" y="580.4" font-size="4.5" font-weight="bold" text-anchor="start">3</text>
<text x="32.2" y="586.4" font-size="7.5" font-weight="bold" text-anchor="start">x</text>
<text x="39.4" y="587.4" font-size="8.6" font-weight="normal" text-anchor="start">10</text>
<text x="47.9" y="582" font-size="8.4" font-weight="bold" text-anchor="start">-14</text>
<line x1="40.6" y1="589" x2="40.6" y2="656" stroke="#000" stroke-width="1.3"/>
<line x1="40.6" y1="595.7" x2="42.8" y2="595.7" stroke="#000" stroke-width="1.0"/>
<text x="35.6" y="600.1" font-size="11.6" font-weight="bold" text-anchor="end">2</text>
<line x1="40.6" y1="620.5" x2="42.8" y2="620.5" stroke="#000" stroke-width="1.0"/>
<text x="35.6" y="624.9" font-size="11.6" font-weight="bold" text-anchor="end">0</text>
<line x1="40.6" y1="645.3" x2="42.8" y2="645.3" stroke="#000" stroke-width="1.0"/>
<text x="35.6" y="649.7" font-size="11.6" font-weight="bold" text-anchor="end">-2</text>
<path d="M40.6 620.56 L42.85 619.26 L44.6 618.47 L49.1 617.44 L52.35 617.1 L62.5 617 L62.9 617.78 L63.3 619.45 L65.3 630.44 L66.5 635.74 L67.9 640.98 L69.7 646.49 L71.1 650.2 L72.3 652.52 L74.5 655.2 L75.3 655.76 L75.9 655.9 L76.5 655.6 L76.9 654.66 L79.5 642.9 L80.9 638.03 L82.3 634.15 L83.9 630.88 L85.7 627.89 L87.3 625.82 L89.5 623.62 L91.5 622.08 L93.5 621.03 L100.1 618.68 L102.5 618 L105.3 617.44 L107.1 617.22 L120.1 617 L120.5 617.78 L120.9 619.45 L122.9 630.44 L124.1 635.74 L125.5 640.98 L127.3 646.49 L128.7 650.2 L129.9 652.52 L132.1 655.2 L132.9 655.76 L133.5 655.9 L134.1 655.6 L134.5 654.66 L137.1 642.9 L138.5 638.03 L139.9 634.15 L141.5 630.88 L143.3 627.89 L144.9 625.82 L147.1 623.62 L149.1 622.08 L151.1 621.03 L157.7 618.68 L160.1 618 L162.9 617.44 L164.7 617.22 L177.8 617 L178.2 617.78 L178.6 619.45 L180.6 630.44 L181.8 635.74 L183.2 640.98 L185 646.49 L186.4 650.2 L187.6 652.52 L189.8 655.2 L190.6 655.76 L191.2 655.9 L191.8 655.6 L192.2 654.66 L194.8 642.9 L196.2 638.03 L197.6 634.15 L199.2 630.88 L201 627.89 L202.6 625.82 L204.8 623.62 L206.8 622.08 L208.8 621.03 L215.4 618.68 L217.8 618 L220.6 617.44 L222.4 617.22 L235.6 617 L236 617.78 L236.4 619.45 L238.4 630.44 L239.6 635.74 L241 640.98 L242.8 646.49 L244.2 650.2 L245.4 652.52 L247.6 655.2 L248.4 655.76 L249 655.9 L249.6 655.6 L250 654.66 L251 650.48 L252.4 643.7 L254.4 636.8 L255.6 633.7 L257.8 629.46 L259 627.61 L260.2 626.05 L262 624.17 L263.6 622.79 L265 621.84 L266.4 621.11 L270.7 619.57" fill="none" stroke="#000" stroke-width="1.3" stroke-linejoin="round"/>
<path d="M40.6 620.44 L42.85 621.74 L44.35 622.43 L45.85 622.88 L48.6 623.45 L52.6 623.91 L62.5 624.2 L62.9 622.97 L64.5 611.57 L65.3 606.82 L66.3 602.76 L67.5 598.96 L69.1 595.45 L71.1 592.38 L74.3 588.99 L75.1 588.42 L75.9 588.2 L76.3 588.4 L76.7 588.98 L77.5 592 L79.7 598.95 L82.5 606.17 L83.5 608.2 L84.9 610.57 L86.1 612.33 L87.3 613.79 L90.1 616.42 L91.5 617.43 L92.7 618.1 L97.5 619.8 L102.1 621.98 L104.9 622.7 L107.7 623.24 L114.5 623.95 L120.1 624.2 L120.5 622.97 L122.1 611.57 L122.9 606.82 L123.9 602.76 L125.1 598.96 L126.7 595.45 L128.7 592.38 L131.9 588.99 L132.7 588.42 L133.5 588.2 L133.9 588.4 L134.3 588.98 L135.1 592 L137.1 598.36 L139.9 605.72 L140.9 607.83 L142.1 609.93 L143.3 611.77 L144.5 613.33 L147.3 616.09 L148.7 617.17 L149.9 617.9 L151.5 618.59 L155.3 619.88 L159.3 621.83 L162.3 622.65 L165.1 623.21 L167.9 623.58 L173.5 624.05 L177.8 624.2 L178.2 622.97 L179.8 611.57 L180.6 606.82 L181.6 602.76 L182.8 598.96 L184.4 595.45 L186.4 592.38 L189.6 588.99 L190.4 588.42 L191.2 588.2 L191.6 588.4 L192 588.98 L192.8 592 L194.8 598.36 L197.4 605.25 L199.2 608.91 L201.6 612.59 L202.6 613.79 L204.2 615.38 L205.6 616.58 L207 617.56 L208.8 618.44 L213 619.88 L217 621.83 L220.4 622.74 L224.4 623.44 L230.8 624.02 L235.6 624.2 L236 622.97 L237.6 611.57 L238.4 606.82 L239.4 602.76 L240.6 598.96 L242.2 595.45 L244.2 592.38 L247.4 588.99 L248.2 588.42 L249 588.2 L249.4 588.4 L249.8 588.98 L250.6 592 L252.4 597.75 L255 604.78 L256.4 607.83 L258.6 611.48 L259.8 613.09 L261 614.41 L262.6 615.92 L264.2 617.17 L266.4 618.36 L270.7 619.84" fill="none" stroke="#ff2a1a" stroke-width="1.4" stroke-linejoin="round"/>
<path d="M40.6 620.5 L62.5 620.3 L64.5 619.2 L66.7 617.41 L67.5 617 L70.7 616.39 L75.9 616 L77.5 616.29 L82.3 617.95 L85.7 618.62 L96.3 619.91 L101.7 620.29 L120.1 620.3 L122.1 619.2 L124.3 617.41 L125.1 617 L128.3 616.39 L133.5 616 L135.1 616.29 L139.9 617.95 L143.3 618.62 L153.5 619.87 L158.9 620.28 L177.8 620.3 L179.8 619.2 L182 617.41 L182.8 617 L186 616.39 L191.2 616 L192.8 616.29 L197.4 617.9 L200.6 618.55 L206.2 619.33 L215.6 620.24 L235.6 620.3 L237.6 619.2 L239.8 617.41 L240.6 617 L243.8 616.39 L249 616 L250.2 616.17 L255 617.84 L257.6 618.41 L262.4 619.14 L270.7 620.04" fill="none" stroke="#1638ff" stroke-width="1.4" stroke-linejoin="round"/>
<text x="146" y="670.2" font-size="10.8" font-weight="bold"><tspan font-weight="normal">&#916;</tspan>[H<tspan font-size="6.5" dy="-4.2">+</tspan><tspan dy="4.2">]</tspan></text>
<text x="19.0" y="677.9" font-size="11" font-weight="bold">mM<tspan font-size="8">x 10</tspan><tspan font-size="8" dy="-5">-6</tspan></text>
<line x1="40.6" y1="680.7" x2="40.6" y2="749.4" stroke="#000" stroke-width="1.3"/>
<line x1="40.6" y1="698.9" x2="42.8" y2="698.9" stroke="#000" stroke-width="1.0"/>
<text x="35.6" y="703.3" font-size="11.6" font-weight="bold" text-anchor="end">10</text>
<line x1="40.6" y1="720.1" x2="42.8" y2="720.1" stroke="#000" stroke-width="1.0"/>
<text x="35.6" y="724.5" font-size="11.6" font-weight="bold" text-anchor="end">5</text>
<line x1="40.6" y1="741.4" x2="42.8" y2="741.4" stroke="#000" stroke-width="1.0"/>
<text x="35.6" y="745.8" font-size="11.6" font-weight="bold" text-anchor="end">0</text>
<path d="M40.6 741.43 L62.35 735.04 L62.5 735.5 L63.5 704 L63.9 697.25 L64.5 691.2 L64.9 689.02 L65.5 686.69 L66.3 684.79 L67.3 683.1 L67.9 682.41 L68.5 682 L70.1 681.46 L71.7 681.21 L72.5 681.28 L73.3 681.68 L74.1 682.4 L75.1 683.65 L75.7 685.24 L76.3 688 L76.7 692.05 L77.9 708.62 L78.7 717.37 L79.5 723.7 L80.5 728.17 L82.1 733.04 L83.7 737.21 L84.7 739.39 L85.3 740.35 L86.5 741.68 L87.5 742.58 L88.5 743.25 L89.3 743.56 L91.5 743.89 L93.5 744 L94.5 743.87 L97.5 742.8 L106.9 740.1 L113.3 737.57 L120.1 735.5 L121.1 704 L121.5 697.25 L122.1 691.2 L122.5 689.02 L123.1 686.69 L123.9 684.79 L124.9 683.1 L125.5 682.41 L126.1 682 L127.7 681.46 L129.1 681.22 L130.3 681.35 L130.9 681.68 L131.7 682.4 L132.5 683.36 L132.9 684.05 L133.5 686.02 L134.1 689.65 L135.7 710.92 L136.5 719.28 L137.1 723.7 L138.1 728.17 L139.3 731.96 L141.7 738.15 L142.5 739.74 L143.3 740.83 L145.1 742.58 L146.5 743.43 L149.3 743.91 L151.7 743.95 L155.1 742.8 L164.3 740.17 L171.1 737.5 L177.8 735.5 L178.8 704 L179.4 694.7 L180 690.04 L180.4 688.13 L181 686.11 L181.8 684.41 L182.8 682.84 L183.6 682.1 L184.4 681.77 L186 681.33 L187.4 681.2 L188 681.35 L188.8 681.84 L189.6 682.62 L190.4 683.65 L191 685.24 L191.6 688 L192 692.05 L193.2 708.62 L194.4 721 L194.8 723.7 L195.4 726.57 L196.2 729.57 L197 731.96 L198.8 736.72 L199.8 739 L200.6 740.35 L202.2 742.06 L203.4 743.01 L204.6 743.56 L208 743.98 L209 743.99 L210 743.82 L212.8 742.8 L222 740.17 L228.8 737.5 L232.6 736.28 L235.6 735.5 L236.6 704 L237.2 694.7 L237.8 690.04 L238.2 688.13 L238.8 686.11 L239.6 684.41 L240.6 682.84 L241.2 682.24 L242 681.84 L243.6 681.37 L245 681.2 L245.6 681.28 L246.4 681.68 L247.2 682.4 L248 683.36 L248.6 684.58 L249.2 686.95 L249.6 689.65 L251.4 713.15 L252.4 722.49 L253.2 726.57 L254 729.57 L256.8 737.21 L257.8 739.39 L258.6 740.6 L260.4 742.42 L262 743.43 L264.4 743.87 L266.8 743.99 L268 743.76 L270.7 742.77" fill="none" stroke="#000" stroke-width="1.3" stroke-linejoin="round"/>
<path d="M40.6 741.4 L62.5 741 L63.1 741.27 L63.7 741.84 L65.3 745.45 L65.9 746.06 L66.9 746.81 L68.5 747.64 L71.1 748.51 L73.1 749.01 L74.9 749.2 L76.1 749.08 L76.9 748.83 L81.1 745.35 L82.3 744.6 L83.7 743.99 L90.9 741.84 L92.3 741.61 L94.7 741.49 L120.1 741 L120.7 741.27 L121.3 741.84 L122.9 745.45 L123.5 746.06 L124.5 746.81 L126.1 747.64 L128.9 748.57 L130.9 749.04 L132.7 749.2 L133.9 749.04 L134.5 748.83 L138.3 745.65 L140.3 744.41 L143.1 743.38 L148.9 741.75 L150.1 741.6 L154.7 741.42 L177.8 741 L178.4 741.27 L179 741.84 L180.6 745.45 L181.2 746.06 L182.2 746.81 L183.8 747.64 L186.6 748.57 L188.6 749.04 L190.4 749.2 L191.6 749.04 L192.2 748.83 L196 745.65 L198 744.41 L200.8 743.38 L206.6 741.75 L208 741.59 L212.6 741.41 L235.6 741 L236.2 741.27 L236.8 741.84 L238.4 745.45 L239 746.06 L240 746.81 L241.6 747.64 L244.2 748.51 L246.2 749.01 L248 749.2 L249.2 749.08 L250 748.83 L251.6 747.4 L254.6 745.07 L255.8 744.41 L257.6 743.7 L264.6 741.72 L270.7 741.4" fill="none" stroke="#ff2a1a" stroke-width="1.4" stroke-linejoin="round"/>
<path d="M40.6 741.4 L62.7 741.63 L63.7 742.17 L65.1 744.52 L65.5 745 L67.3 746.16 L68.9 746.82 L71.3 747.47 L73.3 747.87 L74.9 748 L75.9 747.92 L76.9 747.65 L81.3 744.62 L83.5 743.61 L87.3 742.54 L90.3 741.92 L92.3 741.7 L120.3 741.63 L121.3 742.17 L122.7 744.52 L123.1 745 L124.9 746.16 L126.5 746.82 L128.9 747.47 L130.9 747.87 L132.5 748 L133.5 747.92 L134.5 747.65 L138.7 744.74 L140.5 743.84 L143.7 742.82 L148.5 741.83 L152.7 741.68 L177.8 741.6 L178.4 741.78 L179 742.17 L180.6 744.8 L181.4 745.44 L182.6 746.16 L184.2 746.82 L186.6 747.47 L188.6 747.87 L190.2 748 L191.2 747.92 L192.2 747.65 L196.4 744.74 L198.2 743.84 L201.4 742.82 L206.2 741.83 L210.4 741.68 L235.6 741.6 L236.2 741.78 L236.8 742.17 L238.4 744.8 L239.2 745.44 L240.4 746.16 L242 746.82 L244.4 747.47 L246.4 747.87 L248 748 L249 747.92 L250 747.65 L254.8 744.39 L256.4 743.69 L258.6 742.98 L264.4 741.78 L270.7 741.66" fill="none" stroke="#1638ff" stroke-width="1.4" stroke-linejoin="round"/>
<text x="136.7" y="767.0" font-size="10.8" font-weight="bold"><tspan font-weight="normal">&#916;</tspan>[HCO<tspan font-size="6" dx="0.6" dy="-5.2">-</tspan><tspan font-size="5.5" dx="-2.6" dy="7.2">3</tspan><tspan dx="1.2" dy="-2.0">]</tspan></text>
<text x="19" y="769.9" font-size="11" font-weight="bold" text-anchor="start">mM</text>
<line x1="40.6" y1="771.5" x2="40.6" y2="839.4" stroke="#000" stroke-width="1.3"/>
<line x1="40.6" y1="778.1" x2="42.8" y2="778.1" stroke="#000" stroke-width="1.0"/>
<text x="35.6" y="782.5" font-size="11.6" font-weight="bold" text-anchor="end">2</text>
<line x1="40.6" y1="793" x2="42.8" y2="793" stroke="#000" stroke-width="1.0"/>
<text x="35.6" y="797.4" font-size="11.6" font-weight="bold" text-anchor="end">0</text>
<line x1="40.6" y1="807.9" x2="42.8" y2="807.9" stroke="#000" stroke-width="1.0"/>
<text x="35.6" y="812.3" font-size="11.6" font-weight="bold" text-anchor="end">-2</text>
<line x1="40.6" y1="822.8" x2="42.8" y2="822.8" stroke="#000" stroke-width="1.0"/>
<text x="35.6" y="827.2" font-size="11.6" font-weight="bold" text-anchor="end">-4</text>
<line x1="40.6" y1="838.2" x2="42.8" y2="838.2" stroke="#000" stroke-width="1.0"/>
<text x="35.6" y="842.6" font-size="11.6" font-weight="bold" text-anchor="end">-6</text>
<path d="M40.6 792.97 L62.35 799.55 L62.5 798.6 L63.5 822.9 L64.1 829.69 L64.5 832.2 L65.1 834.2 L65.7 835.59 L66.3 836.54 L67.5 837.91 L68.5 838.74 L69.3 839.14 L72.3 839.68 L73.3 839.67 L74.1 839.39 L74.9 838.76 L75.5 838 L75.9 834.37 L76.9 817.1 L77.3 813.88 L77.9 810.52 L79.5 804.05 L81.7 797.5 L82.3 796.1 L83.7 793.48 L84.5 792.26 L85.1 791.63 L85.5 791.4 L87.5 790.76 L90.5 790.13 L93.7 789.9 L95.9 790.12 L98.1 790.71 L106.1 793.38 L119.9 798.48 L120.1 798.6 L121.1 822.9 L121.7 829.69 L122.1 832.2 L122.7 834.2 L123.3 835.59 L124.1 836.8 L125.5 838.28 L126.3 838.86 L127.1 839.2 L128.9 839.57 L130.5 839.7 L131.3 839.57 L131.9 839.27 L132.5 838.76 L133.1 838 L133.5 834.37 L134.5 817.1 L135.1 812.61 L136.1 807.9 L137.1 804.05 L138.9 798.57 L140.1 795.7 L141.5 793.14 L142.3 792.02 L142.9 791.49 L144.1 791.06 L147.3 790.26 L150.7 789.91 L153.1 790.05 L155.7 790.71 L164.9 793.8 L177.8 798.6 L178.8 822.9 L179.4 829.69 L179.8 832.2 L180.4 834.2 L181 835.59 L181.8 836.8 L183.2 838.28 L184 838.86 L184.8 839.2 L186.6 839.57 L188.2 839.7 L189 839.57 L189.6 839.27 L190.2 838.76 L190.8 838 L191.2 834.37 L192.2 817.1 L192.8 812.61 L193.8 807.9 L194.8 804.05 L196.4 799.14 L197.6 796.1 L199.6 792.53 L200.2 791.81 L200.8 791.4 L203.6 790.55 L206.6 790.03 L209.4 789.91 L211.6 790.21 L221.6 793.45 L235.6 798.6 L236.6 822.9 L237.2 829.69 L237.6 832.2 L238.2 834.2 L238.8 835.59 L239.6 836.8 L241 838.28 L241.8 838.86 L242.6 839.2 L244.4 839.57 L246 839.7 L246.8 839.57 L247.4 839.27 L248 838.76 L248.6 838 L249 834.37 L250 817.1 L250.6 812.61 L251.6 807.9 L252.6 804.05 L254.2 799.14 L255.4 796.1 L257.4 792.53 L258 791.81 L258.6 791.4 L261.8 790.46 L265.2 789.96 L268 789.96 L270.7 790.55" fill="none" stroke="#000" stroke-width="1.3" stroke-linejoin="round"/>
<path d="M40.6 793 L62.5 793 L63.5 792.44 L64.7 791.53 L67.3 788.41 L69.5 786.16 L70.7 785.15 L71.5 784.7 L73.5 783.92 L74.7 783.61 L75.7 783.5 L76.5 783.65 L77.3 784.1 L83.1 789.02 L85.3 790.46 L86.9 791.34 L88.3 791.85 L90.7 792.33 L93.5 792.75 L96.1 792.97 L120.1 793 L121.1 792.44 L122.3 791.53 L124.9 788.41 L127.1 786.16 L128.3 785.15 L129.1 784.7 L131.1 783.92 L132.3 783.61 L133.3 783.5 L134.1 783.65 L135.1 784.24 L141.1 789.3 L144.1 791.15 L146.1 791.9 L150.3 792.65 L154.1 792.98 L177.8 793 L178.8 792.44 L180 791.53 L182.6 788.41 L184.8 786.16 L186 785.15 L186.8 784.7 L188.8 783.92 L190 783.61 L191 783.5 L191.8 783.65 L192.8 784.24 L198.8 789.3 L201.8 791.15 L203.8 791.9 L208 792.65 L211.8 792.98 L235.6 793 L236.6 792.44 L237.8 791.53 L240.4 788.41 L242.6 786.16 L243.8 785.15 L244.6 784.7 L246.6 783.92 L247.8 783.61 L248.8 783.5 L249.6 783.65 L250.4 784.1 L256.2 789.02 L258.6 790.58 L260.2 791.43 L261.6 791.9 L265.2 792.56 L268 792.89 L270.7 793" fill="none" stroke="#ff2a1a" stroke-width="1.4" stroke-linejoin="round"/>
<path d="M40.6 793 L62.5 792.3 L62.9 783.57 L63.3 778.26 L64.1 773.33 L64.5 771.95 L64.7 771.64 L64.9 771.61 L65.7 771.94 L76.5 781.8 L77.5 788.2 L78.5 792.01 L78.9 792.74 L79.1 792.84 L81.3 793.34 L84.3 793.37 L99.3 792.79 L120.1 792.3 L120.5 783.57 L120.9 778.26 L121.7 773.33 L122.1 771.95 L122.3 771.64 L122.5 771.61 L123.3 771.94 L134.1 781.8 L135.1 788.2 L136.1 792.01 L136.5 792.74 L138.5 793.28 L141.7 793.38 L157.1 792.78 L177.8 792.3 L178.2 783.57 L178.6 778.26 L179.4 773.33 L179.8 771.95 L180 771.64 L180.2 771.61 L181 771.94 L191.8 781.8 L192.8 788.2 L193.6 791.42 L194.2 792.74 L195.4 793.13 L197 793.37 L199.2 793.38 L215 792.78 L235.6 792.3 L236 783.57 L236.4 778.26 L237.2 773.33 L237.6 771.95 L237.8 771.64 L238 771.61 L238.8 771.94 L249.6 781.8 L250.6 788.2 L251.4 791.42 L252 792.74 L253.6 793.22 L255.6 793.4 L270.7 792.84" fill="none" stroke="#1638ff" stroke-width="1.4" stroke-linejoin="round"/>
<text x="310.3" y="131" font-size="13.6" font-weight="normal" stroke="#000" stroke-width="0.45">(<tspan font-size="11.8" font-weight="bold" stroke-width="0.1" dx="0.1">D</tspan><tspan dx="1.4" stroke-width="0.45">)</tspan></text>
<text x="443.6" y="132.3" font-size="11.5" font-weight="bold">d[H<tspan font-size="6.5" dy="-4.2">+</tspan><tspan dy="4.2">]/dt</tspan></text>
<text x="429.9" y="160.7" font-size="11.3" font-weight="bold" text-anchor="start">extracellular</text>
<text x="359.4" y="148.9" font-size="9.5" font-weight="bold" text-anchor="start">-6</text>
<text x="323.2" y="162.4" font-size="11" font-weight="bold" text-anchor="start">mMs</text>
<text x="348" y="158" font-size="5" font-weight="bold" text-anchor="start">-1</text>
<text x="351.8" y="162.4" font-size="8" font-weight="bold" text-anchor="start">x</text>
<text x="358.6" y="162.4" font-size="9.6" font-weight="bold" text-anchor="start">10</text>
<line x1="346.3" y1="164.6" x2="346.3" y2="232.5" stroke="#000" stroke-width="1.3"/>
<line x1="346.3" y1="172.1" x2="348.5" y2="172.1" stroke="#000" stroke-width="1.0"/>
<text x="344.1" y="176.5" font-size="11.6" font-weight="bold" text-anchor="end">2</text>
<line x1="346.3" y1="202.7" x2="348.5" y2="202.7" stroke="#000" stroke-width="1.0"/>
<text x="344.1" y="207.1" font-size="11.6" font-weight="bold" text-anchor="end">0</text>
<line x1="346.3" y1="232.2" x2="348.5" y2="232.2" stroke="#000" stroke-width="1.0"/>
<text x="344.1" y="236.6" font-size="11.6" font-weight="bold" text-anchor="end">-2</text>
<line x1="496.4" y1="240.4" x2="516.5" y2="240.4" stroke="#22f0ff" stroke-width="1.5"/>
<line x1="552.3" y1="240.4" x2="572.8" y2="240.4" stroke="#14f414" stroke-width="1.5"/>
<line x1="552.3" y1="257.4" x2="572.8" y2="257.4" stroke="#ff2a1a" stroke-width="1.5"/>
<text x="521.8" y="243.5" font-size="12" font-weight="bold">r</text>
<text x="527.4" y="237.3" font-size="6" font-weight="bold">H<tspan font-size="4.5" dy="-2">+</tspan></text>
<text x="527.4" y="245.9" font-size="6" font-weight="bold">ED</text>
<text x="578.4" y="243.5" font-size="12" font-weight="bold">r</text>
<text x="584" y="237.3" font-size="6" font-weight="bold">H<tspan font-size="4.5" dy="-2">+</tspan></text>
<text x="584" y="245.9" font-size="6" font-weight="bold">vol,o</text>
<text x="578.4" y="260.3" font-size="12" font-weight="bold">r</text>
<text x="584" y="254.1" font-size="6" font-weight="bold">H<tspan font-size="4.5" dy="-2">+</tspan></text>
<text x="584" y="262.7" font-size="6" font-weight="bold">CA,o</text>
<text x="444.6" y="280.8" font-size="11.4" font-weight="bold" text-anchor="start">neuron</text>
<text x="315.6" y="280.5" font-size="11" font-weight="bold" text-anchor="start">mMs</text>
<text x="340.3" y="276.2" font-size="5" font-weight="bold" text-anchor="start">-1</text>
<text x="344.3" y="280.5" font-size="8" font-weight="bold" text-anchor="start">x</text>
<text x="351" y="280.5" font-size="8.8" font-weight="normal" text-anchor="start">10</text>
<text x="359.3" y="276.1" font-size="8.8" font-weight="normal" text-anchor="start">-8</text>
<line x1="346.3" y1="282.8" x2="346.3" y2="351" stroke="#000" stroke-width="1.3"/>
<line x1="346.3" y1="294.9" x2="348.5" y2="294.9" stroke="#000" stroke-width="1.0"/>
<text x="343.3" y="299.3" font-size="11.6" font-weight="bold" text-anchor="end">5</text>
<line x1="346.3" y1="307.7" x2="348.5" y2="307.7" stroke="#000" stroke-width="1.0"/>
<text x="343.3" y="312.1" font-size="11.6" font-weight="bold" text-anchor="end">0</text>
<line x1="346.3" y1="320.6" x2="348.5" y2="320.6" stroke="#000" stroke-width="1.0"/>
<text x="343.3" y="325" font-size="11.6" font-weight="bold" text-anchor="end">-5</text>
<line x1="346.3" y1="333.9" x2="348.5" y2="333.9" stroke="#000" stroke-width="1.0"/>
<text x="343.3" y="338.3" font-size="11.6" font-weight="bold" text-anchor="end">-10</text>
<line x1="346.3" y1="346.8" x2="348.5" y2="346.8" stroke="#000" stroke-width="1.0"/>
<text x="343.3" y="351.2" font-size="11.6" font-weight="bold" text-anchor="end">-15</text>
<line x1="552.5" y1="324.6" x2="572.3" y2="324.6" stroke="#14f414" stroke-width="1.5"/>
<text x="578.4" y="327.8" font-size="12" font-weight="bold">r</text>
<text x="584" y="321.6" font-size="6" font-weight="bold">H<tspan font-size="4.5" dy="-2">+</tspan></text>
<text x="584" y="330.2" font-size="6" font-weight="bold">vol,n</text>
<text x="453.2" y="401.3" font-size="11.4" font-weight="bold" text-anchor="start">glia</text>
<text x="315.6" y="399.8" font-size="11" font-weight="bold" text-anchor="start">mMs</text>
<text x="340.3" y="395.5" font-size="5" font-weight="bold" text-anchor="start">-1</text>
<text x="344.3" y="399.8" font-size="8" font-weight="bold" text-anchor="start">x</text>
<text x="351" y="399.8" font-size="8.8" font-weight="normal" text-anchor="start">10</text>
<text x="359.3" y="395.4" font-size="8.8" font-weight="normal" text-anchor="start">-8</text>
<line x1="346.3" y1="400.9" x2="346.3" y2="469.8" stroke="#000" stroke-width="1.3"/>
<line x1="346.3" y1="409.8" x2="348.5" y2="409.8" stroke="#000" stroke-width="1.0"/>
<text x="343.3" y="414.2" font-size="11.6" font-weight="bold" text-anchor="end">5</text>
<line x1="346.3" y1="426.7" x2="348.5" y2="426.7" stroke="#000" stroke-width="1.0"/>
<text x="343.3" y="431.1" font-size="11.6" font-weight="bold" text-anchor="end">0</text>
<line x1="346.3" y1="444.6" x2="348.5" y2="444.6" stroke="#000" stroke-width="1.0"/>
<text x="343.3" y="449" font-size="11.6" font-weight="bold" text-anchor="end">-5</text>
<line x1="346.3" y1="461.9" x2="348.5" y2="461.9" stroke="#000" stroke-width="1.0"/>
<text x="343.3" y="466.3" font-size="11.6" font-weight="bold" text-anchor="end">-10</text>
<line x1="552.5" y1="437.3" x2="572.3" y2="437.3" stroke="#14f414" stroke-width="1.5"/>
<text x="578.4" y="440.5" font-size="12" font-weight="bold">r</text>
<text x="584" y="434.3" font-size="6" font-weight="bold">H<tspan font-size="4.5" dy="-2">+</tspan></text>
<text x="584" y="442.9" font-size="6" font-weight="bold">vol,g</text>
<text x="310.4" y="499.1" font-size="13.6" font-weight="normal" stroke="#000" stroke-width="0.45">(<tspan font-size="11.8" font-weight="bold" stroke-width="0.1" dx="0.1">E</tspan><tspan dx="1" stroke-width="0.45">)</tspan></text>
<text x="433.6" y="501.0" font-size="11.4" font-weight="bold">d[HCO<tspan font-size="5.5" dy="1.2">3</tspan><tspan font-size="5.5" dx="0.3" dy="-7.2">+</tspan><tspan dy="6.0">]/dt</tspan></text>
<text x="429.9" y="520.8" font-size="11.3" font-weight="bold" text-anchor="start">extracellular</text>
<text x="315.6" y="522.6" font-size="11" font-weight="bold" text-anchor="start">mMs</text>
<text x="340.4" y="517.1" font-size="5" font-weight="bold" text-anchor="start">-1</text>
<line x1="346.3" y1="523.7" x2="346.3" y2="592.3" stroke="#000" stroke-width="1.3"/>
<line x1="346.3" y1="529.7" x2="348.5" y2="529.7" stroke="#000" stroke-width="1.0"/>
<text x="343.8" y="534.1" font-size="11.6" font-weight="bold" text-anchor="end">1</text>
<line x1="346.3" y1="551.6" x2="348.5" y2="551.6" stroke="#000" stroke-width="1.0"/>
<text x="343.8" y="556" font-size="11.6" font-weight="bold" text-anchor="end">0</text>
<line x1="346.3" y1="573.4" x2="348.5" y2="573.4" stroke="#000" stroke-width="1.0"/>
<text x="343.8" y="577.8" font-size="11.6" font-weight="bold" text-anchor="end">-1</text>
<line x1="492.3" y1="584" x2="512.4" y2="584" stroke="#22f0ff" stroke-width="1.5"/>
<line x1="492.3" y1="598.1" x2="512.4" y2="598.1" stroke="#14f414" stroke-width="1.5"/>
<line x1="550.8" y1="582.3" x2="570.3" y2="582.3" stroke="#ff2a1a" stroke-width="1.5"/>
<line x1="550.8" y1="599.2" x2="570.3" y2="599.2" stroke="#1638ff" stroke-width="1.5"/>
<line x1="550.8" y1="614.8" x2="570.3" y2="614.8" stroke="#1638ff" stroke-width="1.5" stroke-dasharray="2.2 1.4"/>
<text x="518.2" y="586.6" font-size="12" font-weight="bold">r</text>
<text x="523.8" y="580.4" font-size="6" font-weight="bold">HCO<tspan font-size="3.5" dy="1">3</tspan><tspan font-size="3.5" dy="-3">-</tspan></text>
<text x="523.8" y="589" font-size="6" font-weight="bold">ED</text>
<text x="518.2" y="600.6" font-size="12" font-weight="bold">r</text>
<text x="523.8" y="594.4" font-size="6" font-weight="bold">HCO<tspan font-size="3.5" dy="1">3</tspan><tspan font-size="3.5" dy="-3">-</tspan></text>
<text x="523.8" y="603" font-size="6" font-weight="bold">vol,o</text>
<text x="576.2" y="585" font-size="12" font-weight="bold">r</text>
<text x="581.8" y="578.8" font-size="6" font-weight="bold">HCO<tspan font-size="3.5" dy="1">3</tspan><tspan font-size="3.5" dy="-3">-</tspan></text>
<text x="581.8" y="587.4" font-size="6" font-weight="bold">CA,o</text>
<text x="576.2" y="601.5" font-size="12" font-weight="bold">r</text>
<text x="581.8" y="595.3" font-size="6" font-weight="bold">HCO<tspan font-size="3.5" dy="1">3</tspan><tspan font-size="3.5" dy="-3">-</tspan></text>
<text x="581.8" y="603.9" font-size="6" font-weight="bold">HCEg,o</text>
<text x="576.2" y="617.3" font-size="12" font-weight="bold">r</text>
<text x="581.8" y="611.1" font-size="6" font-weight="bold">HCO<tspan font-size="3.5" dy="1">3</tspan><tspan font-size="3.5" dy="-3">-</tspan></text>
<text x="581.8" y="619.7" font-size="6" font-weight="bold">HCEn,o</text>
<text x="444.4" y="629.3" font-size="11.4" font-weight="bold" text-anchor="start">neuron</text>
<text x="315.6" y="630.7" font-size="11" font-weight="bold" text-anchor="start">mMs</text>
<text x="340.4" y="625.2" font-size="5" font-weight="bold" text-anchor="start">-1</text>
<line x1="346.3" y1="633.8" x2="346.3" y2="702.4" stroke="#000" stroke-width="1.3"/>
<line x1="346.3" y1="641.8" x2="348.5" y2="641.8" stroke="#000" stroke-width="1.0"/>
<text x="343.3" y="646.2" font-size="11.6" font-weight="bold" text-anchor="end">0.15</text>
<line x1="346.3" y1="655.7" x2="348.5" y2="655.7" stroke="#000" stroke-width="1.0"/>
<text x="343.3" y="660.1" font-size="11.6" font-weight="bold" text-anchor="end">0.1</text>
<line x1="346.3" y1="668.6" x2="348.5" y2="668.6" stroke="#000" stroke-width="1.0"/>
<text x="343.3" y="673" font-size="11.6" font-weight="bold" text-anchor="end">0.05</text>
<line x1="346.3" y1="680.5" x2="348.5" y2="680.5" stroke="#000" stroke-width="1.0"/>
<text x="343.3" y="684.9" font-size="11.6" font-weight="bold" text-anchor="end">0</text>
<line x1="346.3" y1="695" x2="348.5" y2="695" stroke="#000" stroke-width="1.0"/>
<text x="343.3" y="699.4" font-size="11.6" font-weight="bold" text-anchor="end">-0.05</text>
<line x1="548.9" y1="712.7" x2="567.6" y2="712.7" stroke="#14f414" stroke-width="1.5"/>
<line x1="548.9" y1="731.4" x2="567.6" y2="731.4" stroke="#1638ff" stroke-width="1.5" stroke-dasharray="2.2 1.4"/>
<text x="575.2" y="715.5" font-size="12" font-weight="bold">r</text>
<text x="580.8" y="709.3" font-size="6" font-weight="bold">HCO<tspan font-size="3.5" dy="1">3</tspan><tspan font-size="3.5" dy="-3">-</tspan></text>
<text x="580.8" y="717.9" font-size="6" font-weight="bold">vol,n</text>
<text x="576.7" y="734.2" font-size="12" font-weight="bold">r</text>
<text x="582.3" y="728" font-size="6" font-weight="bold">HCO<tspan font-size="3.5" dy="1">3</tspan><tspan font-size="3.5" dy="-3">-</tspan></text>
<text x="582.3" y="736.6" font-size="6" font-weight="bold">HCEn,n</text>
<text x="453.5" y="749.1" font-size="11.4" font-weight="bold" text-anchor="start">glia</text>
<text x="315.6" y="752.6" font-size="11" font-weight="bold" text-anchor="start">mMs</text>
<text x="340.4" y="747.1" font-size="5" font-weight="bold" text-anchor="start">-1</text>
<line x1="346.3" y1="756.2" x2="346.3" y2="824.3" stroke="#000" stroke-width="1.3"/>
<line x1="346.3" y1="756.8" x2="348.5" y2="756.8" stroke="#000" stroke-width="1.0"/>
<text x="343.3" y="761.2" font-size="11.6" font-weight="bold" text-anchor="end">1.5</text>
<line x1="346.3" y1="774.6" x2="348.5" y2="774.6" stroke="#000" stroke-width="1.0"/>
<text x="343.3" y="779" font-size="11.6" font-weight="bold" text-anchor="end">1</text>
<line x1="346.3" y1="793.1" x2="348.5" y2="793.1" stroke="#000" stroke-width="1.0"/>
<text x="343.3" y="797.5" font-size="11.6" font-weight="bold" text-anchor="end">0.5</text>
<line x1="346.3" y1="811.4" x2="348.5" y2="811.4" stroke="#000" stroke-width="1.0"/>
<text x="343.3" y="815.8" font-size="11.6" font-weight="bold" text-anchor="end">0</text>
<line x1="548.9" y1="833" x2="567.6" y2="833" stroke="#14f414" stroke-width="1.5"/>
<line x1="548.9" y1="847.2" x2="567.6" y2="847.2" stroke="#1638ff" stroke-width="1.5"/>
<text x="575.2" y="835.8" font-size="12" font-weight="bold">r</text>
<text x="580.8" y="829.6" font-size="6" font-weight="bold">HCO<tspan font-size="3.5" dy="1">3</tspan><tspan font-size="3.5" dy="-3">-</tspan></text>
<text x="580.8" y="838.2" font-size="6" font-weight="bold">vol,g</text>
<text x="575.2" y="850" font-size="12" font-weight="bold">r</text>
<text x="580.8" y="843.8" font-size="6" font-weight="bold">HCO<tspan font-size="3.5" dy="1">3</tspan><tspan font-size="3.5" dy="-3">-</tspan></text>
<text x="580.8" y="852.4" font-size="6" font-weight="bold">HCEg,g</text>
<path d="M346.3 198.19 L368.2 200.9 L368.8 203.77 L369.2 208.1 L369.4 209.05 L370 210.66 L370.6 211.54 L371.8 212.2 L373.6 212.66 L376.6 213.07 L381.6 213.5 L381.8 213.13 L382.2 208.75 L382.4 208.22 L383.2 207.9 L385.4 207.57 L386 207.28 L391.8 202.11 L394.4 199.95 L395.6 199.11 L398.6 197.81 L400.6 197.33 L406.2 197.4 L408.4 197.63 L425.97 200.9 L426.57 203.77 L426.97 208.1 L427.17 209.05 L427.77 210.66 L428.37 211.54 L429.57 212.2 L431.37 212.66 L434.37 213.07 L439.37 213.5 L439.57 213.13 L439.97 208.75 L440.17 208.22 L440.97 207.9 L443.17 207.57 L443.77 207.28 L449.37 202.28 L453.17 199.23 L455.97 197.96 L458.17 197.36 L460.77 197.32 L464.97 197.47 L483.74 200.9 L484.34 203.77 L484.74 208.1 L484.94 209.05 L485.54 210.66 L486.14 211.54 L487.34 212.2 L489.14 212.66 L492.14 213.07 L497.14 213.5 L497.34 213.13 L497.74 208.75 L497.94 208.22 L498.74 207.9 L500.94 207.57 L501.54 207.28 L507.14 202.28 L510.94 199.23 L513.74 197.96 L515.74 197.39 L517.54 197.3 L522.34 197.43 L524.34 197.7 L541.51 200.9 L542.11 203.77 L542.51 208.1 L542.71 209.05 L543.31 210.66 L543.91 211.54 L545.11 212.2 L546.91 212.66 L549.91 213.07 L554.91 213.5 L555.11 213.13 L555.51 208.75 L555.71 208.22 L556.51 207.9 L558.71 207.57 L559.31 207.28 L565.11 202.11 L567.71 199.95 L569.11 199 L571.31 198.04 L572.91 197.51 L574.11 197.31 L575.9 197.31" fill="none" stroke="#22f0ff" stroke-width="1.6" stroke-linejoin="round"/>
<path d="M346.3 204.01 L368.2 202.3 L368.6 178 L369 171.01 L369.4 167.54 L369.8 165.6 L370.4 164.46 L370.8 164.2 L371 164.32 L371.6 165.44 L381.6 197.72 L382.6 224.96 L383 229.95 L383.2 231.57 L383.4 232.2 L383.6 232 L384.2 230.41 L385.2 226.37 L386.8 220.92 L388.8 215.89 L390.2 213.17 L392.2 209.98 L393.6 208.23 L395 207.09 L397 205.86 L399 204.97 L401.2 204.36 L404.4 203.75 L408 203.32 L416 202.67 L421.2 202.39 L425.97 202.3 L426.37 178 L426.57 173.74 L426.97 169.11 L427.37 166.34 L427.97 164.76 L428.37 164.27 L428.57 164.2 L428.97 164.61 L429.37 165.44 L439.37 197.72 L440.37 224.96 L440.77 229.95 L440.97 231.57 L441.17 232.2 L441.37 232 L441.97 230.41 L442.97 226.37 L444.57 220.92 L446.57 215.89 L447.97 213.17 L449.97 209.98 L451.37 208.23 L452.77 207.09 L454.77 205.86 L456.77 204.97 L458.97 204.36 L462.17 203.75 L465.77 203.32 L473.77 202.67 L478.97 202.39 L483.74 202.3 L484.14 178 L484.34 173.74 L484.74 169.11 L485.14 166.34 L485.74 164.76 L486.14 164.27 L486.34 164.2 L486.74 164.61 L487.14 165.44 L497.14 197.72 L498.14 224.96 L498.54 229.95 L498.74 231.57 L498.94 232.2 L499.14 232 L499.74 230.41 L500.74 226.37 L502.34 220.92 L504.34 215.89 L505.74 213.17 L507.74 209.98 L509.14 208.23 L510.54 207.09 L512.54 205.86 L514.54 204.97 L516.74 204.36 L519.94 203.75 L523.54 203.32 L531.54 202.67 L536.74 202.39 L541.51 202.3 L541.91 178 L542.11 173.74 L542.51 169.11 L542.91 166.34 L543.51 164.76 L543.91 164.27 L544.11 164.2 L544.51 164.61 L544.91 165.44 L554.91 197.72 L555.91 224.96 L556.31 229.95 L556.51 231.57 L556.71 232.2 L556.91 232 L557.51 230.41 L559.31 223.54 L560.91 218.72 L562.91 214.26 L565.31 210.27 L567.11 208.03 L569.71 206.19 L572.51 204.9 L575.9 204.07" fill="none" stroke="#14f414" stroke-width="1.6" stroke-linejoin="round"/>
<path d="M346.3 203.11 L368.2 201.3 L368.4 174.3 L368.6 176.96 L369.2 197.12 L369.6 204.55 L370.6 216.59 L371 219.5 L371.6 222.26 L371.8 222.8 L372 223 L372.2 222.8 L381.4 199.17 L381.6 206.75 L381.8 224.8 L382.2 203.7 L382.6 193.27 L383 187.27 L383.8 179.24 L384.2 177.2 L384.6 176.54 L384.8 176.53 L385 176.76 L385.6 177.9 L387.2 182.34 L389 186.76 L390.2 189.4 L392 192.87 L394.2 196.37 L396 198.56 L397.4 199.93 L400.4 201.78 L401.6 202.3 L402.6 202.55 L415.8 202.53 L420.2 202.13 L425.97 201.3 L426.17 174.3 L426.37 176.96 L426.97 197.12 L427.37 204.55 L428.37 216.59 L428.77 219.5 L429.37 222.26 L429.57 222.8 L429.77 223 L429.97 222.8 L439.17 199.17 L439.37 206.75 L439.57 224.8 L439.97 203.7 L440.37 193.27 L440.77 187.27 L441.57 179.24 L441.97 177.2 L442.37 176.54 L442.57 176.53 L442.77 176.76 L443.37 177.9 L444.97 182.34 L446.77 186.76 L447.97 189.4 L449.77 192.87 L451.97 196.37 L453.77 198.56 L455.17 199.93 L458.17 201.78 L459.37 202.3 L460.37 202.55 L473.57 202.53 L477.97 202.13 L483.74 201.3 L483.94 174.3 L484.14 176.96 L484.74 197.12 L485.34 207.44 L486.34 218.25 L486.94 221.47 L487.34 222.8 L487.54 223 L487.94 222.32 L496.94 199.17 L497.14 206.75 L497.34 224.8 L497.74 203.7 L498.14 193.27 L498.54 187.27 L499.34 179.24 L499.74 177.2 L500.14 176.54 L500.34 176.53 L500.54 176.76 L501.14 177.9 L502.74 182.34 L504.54 186.76 L505.74 189.4 L507.54 192.87 L509.74 196.37 L511.54 198.56 L512.94 199.93 L515.94 201.78 L517.14 202.3 L518.14 202.55 L531.34 202.53 L535.74 202.13 L541.51 201.3 L541.71 174.3 L541.91 176.96 L542.51 197.12 L543.11 207.44 L544.11 218.25 L544.71 221.47 L545.11 222.8 L545.31 223 L545.71 222.32 L554.71 199.17 L554.91 206.75 L555.11 224.8 L555.51 203.7 L555.91 193.27 L556.31 187.27 L557.11 179.24 L557.51 177.2 L557.91 176.54 L558.11 176.53 L558.31 176.76 L558.91 177.9 L560.71 182.85 L563.31 188.99 L565.51 193.23 L567.11 195.82 L569.31 198.56 L570.91 200.08 L573.91 201.88 L574.91 202.3 L575.9 202.55" fill="none" stroke="#ff2a1a" stroke-width="1.6" stroke-linejoin="round"/>
<path d="M346.3 302.7 L367.75 308 L368.75 341.2 L369.15 348.4 L369.35 349.69 L369.55 350.2 L374.95 324.66 L376.15 319.57 L377.15 316.55 L378.15 314.32 L379.35 312.46 L381.55 309.7 L381.95 290 L382.15 286.31 L382.35 284.5 L382.75 283.19 L383.15 282.56 L383.75 282.33 L384.15 282.34 L384.75 283.5 L385.55 286.68 L386.35 288.67 L388.35 292.4 L389.75 294.65 L391.15 296.44 L392.95 298.37 L395.35 300.56 L397.15 301.9 L399.75 303.39 L402.15 304.51 L404.15 305.2 L407.35 305.99 L411.15 306.66 L416.95 307.38 L421.55 307.81 L425.52 308 L426.52 341.2 L426.92 348.4 L427.12 349.69 L427.32 350.2 L432.72 324.66 L433.92 319.57 L434.92 316.55 L435.92 314.32 L437.12 312.46 L439.32 309.7 L439.72 290 L439.92 286.31 L440.12 284.5 L440.52 283.19 L440.92 282.56 L441.32 282.38 L441.92 282.34 L442.12 282.6 L442.52 283.5 L443.32 286.68 L443.92 288.25 L445.92 292.05 L447.52 294.65 L449.12 296.68 L450.92 298.56 L453.32 300.73 L455.12 302.02 L457.72 303.49 L460.12 304.59 L462.12 305.26 L465.12 305.99 L468.92 306.66 L474.72 307.38 L479.32 307.81 L483.29 308 L484.29 341.2 L484.69 348.4 L484.89 349.69 L485.09 350.2 L490.49 324.66 L491.69 319.57 L492.69 316.55 L493.69 314.32 L494.89 312.46 L497.09 309.7 L497.49 290 L497.69 286.31 L497.89 284.5 L498.09 283.75 L498.49 282.8 L498.89 282.46 L499.49 282.3 L499.69 282.34 L499.89 282.6 L500.29 283.5 L501.09 286.68 L501.69 288.25 L503.89 292.4 L505.49 294.93 L507.09 296.9 L508.89 298.76 L511.29 300.89 L513.09 302.14 L515.69 303.59 L517.89 304.59 L519.89 305.26 L523.09 306.03 L526.69 306.66 L532.69 307.4 L537.09 307.81 L541.06 308 L542.06 341.2 L542.46 348.4 L542.66 349.69 L542.86 350.2 L548.26 324.66 L549.46 319.57 L550.46 316.55 L551.46 314.32 L552.66 312.46 L554.86 309.7 L555.26 290 L555.66 284.5 L556.26 282.8 L556.66 282.46 L557.26 282.3 L557.46 282.34 L557.66 282.6 L558.26 284.13 L559.06 287.27 L559.86 289.07 L562.46 293.74 L563.46 295.2 L564.86 296.9 L567.26 299.32 L569.86 301.5 L573.06 303.39 L575.9 304.68" fill="none" stroke="#14f414" stroke-width="1.6" stroke-linejoin="round"/>
<path d="M346.3 424.1 L367.75 427 L368.75 460.2 L369.15 467.4 L369.35 468.69 L369.55 469.2 L374.95 443.66 L376.15 438.57 L377.15 435.55 L378.15 433.32 L379.35 431.46 L381.55 428.7 L381.95 409 L382.15 405.31 L382.35 403.5 L382.75 402.19 L383.15 401.56 L383.75 401.33 L384.15 401.34 L384.75 402.5 L385.55 405.68 L386.15 407.25 L388.15 411.05 L389.55 413.36 L390.95 415.21 L392.75 417.17 L395.35 419.56 L397.15 420.9 L399.75 422.39 L402.15 423.51 L404.15 424.2 L407.35 424.99 L411.15 425.66 L416.95 426.38 L421.55 426.81 L425.52 427 L426.52 460.2 L426.92 467.4 L427.12 468.69 L427.32 469.2 L432.72 443.66 L433.92 438.57 L434.92 435.55 L435.92 433.32 L437.12 431.46 L439.32 428.7 L439.72 409 L439.92 405.31 L440.12 403.5 L440.52 402.19 L440.92 401.56 L441.52 401.33 L441.92 401.34 L442.52 402.5 L443.32 405.68 L443.92 407.25 L445.92 411.05 L447.32 413.36 L448.72 415.21 L450.52 417.17 L453.12 419.56 L454.92 420.9 L457.52 422.39 L459.92 423.51 L461.92 424.2 L465.12 424.99 L468.92 425.66 L474.72 426.38 L479.32 426.81 L483.29 427 L484.29 460.2 L484.69 467.4 L484.89 468.69 L485.09 469.2 L490.49 443.66 L491.69 438.57 L492.69 435.55 L493.69 433.32 L494.89 431.46 L497.09 428.7 L497.49 409 L497.69 405.31 L497.89 403.5 L498.29 402.19 L498.69 401.56 L499.29 401.33 L499.69 401.34 L500.29 402.5 L501.09 405.68 L501.69 407.25 L503.69 411.05 L505.09 413.36 L506.49 415.21 L508.29 417.17 L510.89 419.56 L512.69 420.9 L515.29 422.39 L517.69 423.51 L519.69 424.2 L522.89 424.99 L526.69 425.66 L532.49 426.38 L537.09 426.81 L541.06 427 L542.06 460.2 L542.46 467.4 L542.66 468.69 L542.86 469.2 L548.26 443.66 L549.46 438.57 L550.46 435.55 L551.46 433.32 L552.66 431.46 L554.86 428.7 L555.26 409 L555.66 403.5 L556.26 401.8 L556.66 401.46 L557.26 401.3 L557.46 401.34 L557.66 401.6 L558.26 403.13 L559.06 406.27 L559.86 408.07 L562.46 412.74 L563.46 414.2 L564.86 415.9 L567.26 418.32 L569.86 420.5 L573.06 422.39 L575.9 423.68" fill="none" stroke="#14f414" stroke-width="1.6" stroke-linejoin="round"/>
<path d="M346.3 551.2 L367.6 551 L369.4 550.1 L370.4 549.82 L377.4 549.6 L382 549.83 L386.8 550.43 L389.8 550.66 L397.2 551 L425.37 551 L427.17 550.1 L428.17 549.82 L435.37 549.6 L439.97 549.85 L445.37 550.5 L453.17 550.97 L483.14 551 L484.94 550.1 L485.94 549.82 L493.14 549.6 L497.74 549.85 L503.14 550.5 L510.94 550.97 L540.91 551 L542.71 550.1 L543.71 549.82 L550.91 549.6 L555.31 549.83 L560.31 550.45 L566.11 550.85 L569.91 550.99 L575.9 551" fill="none" stroke="#22f0ff" stroke-width="1.6" stroke-linejoin="round"/>
<path d="M346.3 552.59 L367.6 552.3 L368.4 535 L368.8 533.24 L369.4 531.41 L370 530.47 L370.4 530.3 L370.6 530.35 L371 530.7 L371.6 531.71 L375.6 540.94 L376.8 543.34 L379.2 547.34 L380.6 548.81 L381.2 550.1 L381.8 559.24 L382.6 567.96 L383 570.79 L383.4 571.9 L383.8 572.3 L384 572.22 L384.4 571.63 L385.6 568.7 L387.8 564.25 L389.8 561.23 L391.4 559.35 L393 557.85 L395.2 556.13 L397 555.06 L399.4 554.16 L401.8 553.49 L404 553.08 L407 552.74 L412.2 552.41 L425.37 552.3 L426.17 535 L426.57 533.24 L427.17 531.41 L427.57 530.69 L428.17 530.3 L428.77 530.7 L429.37 531.71 L433.37 540.94 L434.77 543.71 L436.97 547.34 L438.37 548.81 L438.97 550.1 L439.57 559.24 L440.37 567.96 L440.77 570.79 L441.17 571.9 L441.57 572.3 L441.77 572.22 L442.17 571.63 L443.37 568.7 L445.57 564.25 L447.57 561.23 L449.17 559.35 L450.77 557.85 L452.97 556.13 L454.77 555.06 L457.17 554.16 L459.57 553.49 L461.77 553.08 L464.77 552.74 L469.97 552.41 L483.14 552.3 L483.94 535 L484.34 533.24 L484.94 531.41 L485.34 530.69 L485.94 530.3 L486.54 530.7 L487.14 531.71 L491.14 540.94 L492.54 543.71 L494.74 547.34 L496.14 548.81 L496.74 550.1 L497.34 559.24 L498.14 567.96 L498.54 570.79 L498.94 571.9 L499.34 572.3 L499.54 572.22 L499.94 571.63 L501.14 568.7 L503.34 564.25 L505.34 561.23 L506.94 559.35 L508.54 557.85 L510.74 556.13 L512.54 555.06 L514.94 554.16 L517.34 553.49 L519.54 553.08 L522.54 552.74 L527.74 552.41 L540.91 552.3 L541.71 535 L542.11 533.24 L542.71 531.41 L543.11 530.69 L543.71 530.3 L544.31 530.7 L544.91 531.71 L548.91 540.94 L550.31 543.71 L552.51 547.34 L553.91 548.81 L554.51 550.1 L555.11 559.24 L555.91 567.96 L556.31 570.79 L556.51 571.5 L556.91 572.19 L557.11 572.3 L557.31 572.22 L557.71 571.63 L558.91 568.7 L561.71 563.21 L563.31 560.98 L565.11 558.94 L567.71 556.71 L569.91 555.26 L572.71 554.16 L575.9 553.32" fill="none" stroke="#14f414" stroke-width="1.6" stroke-linejoin="round"/>
<path d="M346.3 551.2 L575.9 551.2" fill="none" stroke="#ff2a1a" stroke-width="1.6" stroke-linejoin="round"/>
<path d="M346.3 555.49 L367.6 555.1 L368.2 588 L368.4 589.95 L368.6 590.7 L369.8 590.7 L370 586.11 L370.6 560.03 L370.8 557.25 L371 556.12 L371.2 555.39 L371.6 554.77 L372.2 554.33 L372.6 554.32 L373.4 554.65 L375.2 555.91 L377.4 556.86 L379.2 557.48 L380.8 557.7 L381.2 548 L381.6 531.64 L381.8 529.69 L382 529.4 L382.2 531.72 L382.8 546.87 L383.2 553.33 L383.6 556 L384 556.58 L384.6 557.13 L385.2 557.3 L386.6 557.23 L392 556.42 L401.6 555.54 L413.8 555.21 L425.37 555.1 L425.97 588 L426.17 589.95 L426.37 590.7 L427.57 590.7 L427.77 586.11 L428.37 560.03 L428.57 557.25 L428.77 556.12 L428.97 555.39 L429.37 554.77 L429.97 554.33 L430.37 554.32 L431.17 554.65 L432.97 555.91 L435.17 556.86 L436.97 557.48 L438.57 557.7 L438.97 548 L439.37 531.64 L439.57 529.69 L439.77 529.4 L439.97 531.72 L440.57 546.87 L440.97 553.33 L441.37 556 L441.77 556.58 L442.37 557.13 L442.97 557.3 L444.37 557.23 L449.77 556.42 L459.37 555.54 L471.57 555.21 L483.14 555.1 L483.74 588 L483.94 589.95 L484.14 590.7 L485.34 590.7 L485.54 586.11 L486.14 560.03 L486.34 557.25 L486.54 556.12 L486.74 555.39 L487.14 554.77 L487.74 554.33 L488.14 554.32 L488.94 554.65 L490.74 555.91 L492.94 556.86 L494.74 557.48 L496.34 557.7 L496.74 548 L497.14 531.64 L497.34 529.69 L497.54 529.4 L497.74 531.72 L498.34 546.87 L498.74 553.33 L499.14 556 L499.54 556.58 L500.14 557.13 L500.74 557.3 L502.14 557.23 L507.54 556.42 L517.14 555.54 L529.34 555.21 L540.91 555.1 L541.51 588 L541.71 589.95 L541.91 590.7 L543.11 590.7 L543.31 586.11 L543.91 560.03 L544.11 557.25 L544.31 556.12 L544.51 555.39 L544.91 554.77 L545.51 554.33 L545.91 554.32 L546.71 554.65 L548.51 555.91 L550.71 556.86 L552.51 557.48 L554.11 557.7 L554.51 548 L554.91 531.64 L555.11 529.69 L555.31 529.4 L555.71 536 L556.31 551 L556.71 555.11 L556.91 556 L557.31 556.58 L558.11 557.22 L559.31 557.28 L568.11 556.12 L575.9 555.5" fill="none" stroke="#1638ff" stroke-width="1.6" stroke-linejoin="round"/>
<path d="M346.3 550.65 L367.55 553.49 L368.2 588 L368.4 589.95 L368.6 590.7 L370.4 590.66 L371.6 590.29 L372.8 589.42 L374 587.96 L375.2 585.77 L376.2 583.31 L377.4 579.48 L378.4 575.49 L380 567.4 L381.4 558.42 L381.6 555.34 L382 539.37 L382.4 530.78 L382.6 528.5 L383 526.15 L383.4 524.79 L383.6 524.6 L384.4 524.8 L385 525.69 L386.4 529.91 L388.2 536.2 L389.6 539.93 L390.6 542.14 L391.6 543.81 L393 545.69 L394.2 546.97 L395.6 548.08 L397.6 549.27 L400 550.32 L403.6 551.56 L406.6 552.3 L410.8 552.89 L415 553.28 L425.37 553.6 L425.97 588 L426.17 589.95 L426.37 590.7 L428.17 590.66 L429.37 590.29 L430.57 589.42 L431.77 587.96 L432.97 585.77 L433.97 583.31 L435.17 579.48 L436.17 575.49 L437.77 567.4 L439.17 558.42 L439.37 555.34 L439.77 539.37 L440.17 530.78 L440.37 528.5 L440.77 526.15 L441.17 524.79 L441.37 524.6 L442.17 524.8 L442.77 525.69 L444.17 529.91 L445.97 536.2 L447.37 539.93 L448.37 542.14 L449.37 543.81 L450.77 545.69 L451.97 546.97 L453.37 548.08 L455.37 549.27 L457.77 550.32 L461.37 551.56 L464.37 552.3 L468.57 552.89 L472.77 553.28 L483.14 553.6 L483.74 588 L483.94 589.95 L484.14 590.7 L485.94 590.66 L487.14 590.29 L488.34 589.42 L489.54 587.96 L490.74 585.77 L491.74 583.31 L492.94 579.48 L493.94 575.49 L495.54 567.4 L496.94 558.42 L497.14 555.34 L497.54 539.37 L497.94 530.78 L498.14 528.5 L498.54 526.15 L498.94 524.79 L499.14 524.6 L499.94 524.8 L500.54 525.69 L501.94 529.91 L503.74 536.2 L505.14 539.93 L506.14 542.14 L507.14 543.81 L508.54 545.69 L509.74 546.97 L511.14 548.08 L513.14 549.27 L515.54 550.32 L519.14 551.56 L522.14 552.3 L526.34 552.89 L530.54 553.28 L540.91 553.6 L541.51 588 L541.71 589.95 L541.91 590.7 L543.71 590.66 L544.91 590.29 L546.11 589.42 L547.31 587.96 L548.51 585.77 L549.51 583.31 L550.71 579.48 L551.71 575.49 L553.31 567.4 L554.71 558.42 L554.91 555.34 L555.31 539.37 L555.71 530.78 L556.11 527.23 L556.71 524.79 L556.91 524.6 L557.71 524.8 L558.31 525.69 L559.71 529.91 L561.31 535.6 L562.31 538.4 L563.91 542.14 L565.51 544.66 L567.51 546.97 L569.51 548.48 L572.11 549.84 L575.9 551.25" fill="none" stroke="#1638ff" stroke-width="1.6" stroke-linejoin="round" stroke-dasharray="4.6 2.2"/>
<path d="M346.3 680.99 L367.6 680.6 L368 681.87 L369 683.75 L369.4 684.14 L370 684.18 L371.2 683.89 L374.2 682.67 L378.2 681.68 L380 680.96 L381 680.29 L381.8 678.08 L382 677.75 L382.2 677.7 L383.6 677.97 L387 679.18 L391.6 679.94 L395.2 680.32 L406.8 680.52 L425.37 680.6 L425.77 681.87 L426.57 683.45 L427.17 684.14 L427.57 684.19 L428.97 683.89 L432.17 682.6 L436.17 681.62 L437.77 680.96 L438.77 680.29 L439.57 678.08 L439.77 677.75 L439.97 677.7 L441.37 677.97 L444.77 679.18 L449.37 679.94 L452.97 680.32 L464.57 680.52 L483.14 680.6 L483.54 681.87 L484.14 683.1 L484.74 683.99 L485.14 684.2 L486.54 683.96 L489.74 682.67 L493.54 681.74 L495.34 681.06 L496.54 680.29 L497.34 678.08 L497.54 677.75 L497.74 677.7 L499.14 677.97 L502.54 679.18 L507.14 679.94 L510.74 680.32 L522.34 680.52 L540.91 680.6 L541.31 681.87 L541.91 683.1 L542.51 683.99 L542.91 684.2 L544.31 683.96 L547.51 682.67 L551.31 681.74 L553.11 681.06 L554.31 680.29 L555.11 678.08 L555.31 677.75 L555.51 677.7 L556.91 677.97 L560.11 679.14 L565.11 679.97 L569.31 680.37 L575.9 680.48" fill="none" stroke="#14f414" stroke-width="1.6" stroke-linejoin="round"/>
<path d="M346.3 680.89 L367.55 675.31 L367.6 675.5 L368.6 645.08 L369 637.57 L369.2 634.7 L369.4 633.5 L369.6 633.85 L370 635.41 L371 641.11 L372 645.47 L375.6 658.6 L377.2 663.9 L377.8 665.37 L379.2 668.09 L380.2 671.42 L380.6 673.5 L381.6 688.85 L382.4 696.12 L382.8 698.37 L383.4 700.26 L384 701.29 L384.8 701.96 L385.2 701.96 L385.6 701.7 L386.2 700.84 L389 691.93 L389.8 689.89 L390.4 688.79 L391.6 686.98 L393 685.32 L394.6 683.83 L396.6 682.36 L398.8 681.09 L401.4 679.92 L404 678.99 L406.8 678.24 L410.8 677.41 L416 676.57 L421 675.91 L425.37 675.5 L426.37 645.08 L426.77 637.57 L426.97 634.7 L427.17 633.5 L427.37 633.85 L427.77 635.41 L428.77 641.11 L429.77 645.47 L433.37 658.6 L434.97 663.9 L435.57 665.37 L436.97 668.09 L437.97 671.42 L438.37 673.5 L439.37 688.85 L440.17 696.12 L440.57 698.37 L441.17 700.26 L441.77 701.29 L442.57 701.96 L442.97 701.96 L443.37 701.7 L443.97 700.84 L446.77 691.93 L447.57 689.89 L448.17 688.79 L449.37 686.98 L450.77 685.32 L452.37 683.83 L454.37 682.36 L456.57 681.09 L459.17 679.92 L461.77 678.99 L464.57 678.24 L468.57 677.41 L473.77 676.57 L478.77 675.91 L483.14 675.5 L484.14 645.08 L484.54 637.57 L484.74 634.7 L484.94 633.5 L485.14 633.85 L485.54 635.41 L486.54 641.11 L487.54 645.47 L491.14 658.6 L492.74 663.9 L493.34 665.37 L494.74 668.09 L495.74 671.42 L496.14 673.5 L497.14 688.85 L497.94 696.12 L498.34 698.37 L498.94 700.26 L499.54 701.29 L500.34 701.96 L500.74 701.96 L501.14 701.7 L501.74 700.84 L504.54 691.93 L505.34 689.89 L505.94 688.79 L507.14 686.98 L508.54 685.32 L510.14 683.83 L512.14 682.36 L514.34 681.09 L516.94 679.92 L519.54 678.99 L522.34 678.24 L526.34 677.41 L531.54 676.57 L536.54 675.91 L540.91 675.5 L541.91 645.08 L542.31 637.57 L542.51 634.7 L542.71 633.5 L542.91 633.85 L543.31 635.41 L544.31 641.11 L545.31 645.47 L548.91 658.6 L550.51 663.9 L551.11 665.37 L552.51 668.09 L553.51 671.42 L553.91 673.5 L554.51 683.43 L555.31 693.18 L556.11 698.37 L556.51 699.77 L557.11 701.02 L557.71 701.69 L558.31 702 L558.71 701.85 L559.31 701.27 L562.91 690.34 L564.11 688.14 L565.71 685.98 L567.71 684 L570.11 682.23 L572.71 680.8 L575.9 679.47" fill="none" stroke="#1638ff" stroke-width="1.6" stroke-linejoin="round" stroke-dasharray="4.6 2.2"/>
<path d="M370.8 639.99 L372.3 646.64 L376.3 661 L377.55 664.82 L379.05 667.75 L379.55 669.01 L380.3 671.89" fill="none" stroke="#1638ff" stroke-width="1.6" stroke-linejoin="round"/>
<path d="M428.57 639.99 L430.07 646.64 L434.07 661 L435.32 664.82 L436.82 667.75 L437.32 669.01 L438.07 671.89" fill="none" stroke="#1638ff" stroke-width="1.6" stroke-linejoin="round"/>
<path d="M486.34 639.99 L487.84 646.64 L491.84 661 L493.09 664.82 L494.59 667.75 L495.09 669.01 L495.84 671.89" fill="none" stroke="#1638ff" stroke-width="1.6" stroke-linejoin="round"/>
<path d="M544.11 639.99 L545.61 646.64 L549.61 661 L550.86 664.82 L552.36 667.75 L552.86 669.01 L553.61 671.89" fill="none" stroke="#1638ff" stroke-width="1.6" stroke-linejoin="round"/>
<path d="M346.3 811.19 L367.6 810.8 L369 812.1 L369.4 812.3 L370 812.12 L371 811.44 L371.6 811.2 L376.4 810.82 L425.37 810.8 L426.77 812.1 L427.17 812.3 L427.77 812.12 L428.77 811.44 L429.37 811.2 L434.17 810.82 L483.14 810.8 L484.54 812.1 L484.94 812.3 L485.54 812.12 L486.54 811.44 L487.14 811.2 L491.94 810.82 L540.91 810.8 L542.31 812.1 L542.71 812.3 L543.31 812.12 L544.31 811.44 L544.91 811.2 L548.91 810.84 L575.9 810.8" fill="none" stroke="#14f414" stroke-width="1.6" stroke-linejoin="round"/>
<path d="M346.3 804 L367.6 803.9 L368.2 756.6 L369 792 L369.4 800.3 L369.8 804.5 L370.4 806.11 L371 806.79 L377.2 806.5 L379 806.57 L380.6 806.8 L380.8 807.6 L381.2 812 L381.6 822.78 L381.8 822.99 L382.2 814 L382.8 807.6 L383.6 805.78 L384.2 805.03 L384.8 804.61 L386.8 804.1 L388.8 803.9 L425.37 803.9 L425.97 756.6 L426.77 792 L427.17 800.3 L427.57 804.5 L428.17 806.11 L428.77 806.79 L434.97 806.5 L436.77 806.57 L438.37 806.8 L438.57 807.6 L438.97 812 L439.37 822.78 L439.57 822.99 L439.97 814 L440.57 807.6 L441.37 805.78 L441.97 805.03 L442.57 804.61 L444.57 804.1 L446.57 803.9 L483.14 803.9 L483.74 756.6 L484.54 792 L484.94 800.3 L485.34 804.5 L485.94 806.11 L486.54 806.79 L492.74 806.5 L494.54 806.57 L496.14 806.8 L496.34 807.6 L496.74 812 L497.14 822.78 L497.34 822.99 L497.74 814 L498.34 807.6 L499.14 805.78 L499.74 805.03 L500.34 804.61 L502.34 804.1 L504.34 803.9 L540.91 803.9 L541.51 756.6 L542.31 792 L542.71 800.3 L543.11 804.5 L543.71 806.11 L544.31 806.79 L550.51 806.5 L552.31 806.57 L553.91 806.8 L554.11 807.6 L554.51 812 L554.91 822.78 L555.11 822.99 L555.51 814 L556.11 807.6 L556.71 806.12 L557.51 805.03 L558.11 804.61 L558.71 804.42 L561.71 803.92 L575.9 803.9" fill="none" stroke="#1638ff" stroke-width="1.6" stroke-linejoin="round"/>
</svg>
</body></html>
